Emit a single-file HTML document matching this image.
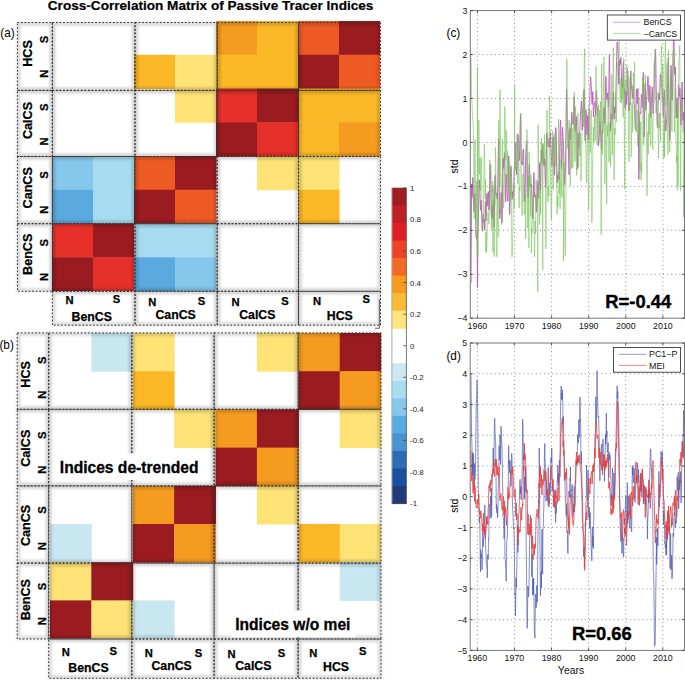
<!DOCTYPE html>
<html><head><meta charset="utf-8"><style>
html,body{margin:0;padding:0;background:#fff;}
body{width:685px;height:680px;position:relative;overflow:hidden;font-family:"Liberation Sans",sans-serif;}
</style></head><body>
<svg width="685" height="680" viewBox="0 0 685 680" style="position:absolute;left:0;top:0">
<defs><filter id="blur" x="-20%" y="-20%" width="140%" height="140%"><feGaussianBlur stdDeviation="1.3"/></filter></defs>
<text x="210.6" y="9.6" font-family="Liberation Sans, sans-serif" font-weight="bold" font-size="13.6" text-anchor="middle" stroke="#000" stroke-width="0.2">Cross-Correlation Matrix of Passive Tracer Indices</text>
<text transform="translate(0.3 37.2) scale(1 1.15)" font-family="Liberation Sans, sans-serif" font-size="11.8">(a)</text>
<text transform="translate(-0.6 349.3) scale(1 1.15)" font-family="Liberation Sans, sans-serif" font-size="11.8">(b)</text>
<rect x="216.00" y="21.00" width="41.50" height="34.25" fill="#f49b20"/>
<rect x="257.00" y="21.00" width="41.50" height="34.25" fill="#fbb826"/>
<rect x="298.00" y="21.00" width="41.50" height="34.25" fill="#ee5a24"/>
<rect x="339.00" y="21.00" width="41.00" height="34.25" fill="#9b1c20"/>
<rect x="134.00" y="54.75" width="41.50" height="34.25" fill="#fbb826"/>
<rect x="175.00" y="54.75" width="41.50" height="34.25" fill="#fde276"/>
<rect x="216.00" y="54.75" width="41.50" height="34.25" fill="#fbb826"/>
<rect x="257.00" y="54.75" width="41.50" height="34.25" fill="#fbb826"/>
<rect x="298.00" y="54.75" width="41.50" height="34.25" fill="#9b1c20"/>
<rect x="339.00" y="54.75" width="41.00" height="34.25" fill="#ee5a24"/>
<rect x="175.00" y="88.50" width="41.50" height="34.25" fill="#fde276"/>
<rect x="216.00" y="88.50" width="41.50" height="34.25" fill="#e6312a"/>
<rect x="257.00" y="88.50" width="41.50" height="34.25" fill="#9b1c20"/>
<rect x="298.00" y="88.50" width="41.50" height="34.25" fill="#fbb826"/>
<rect x="339.00" y="88.50" width="41.00" height="34.25" fill="#fbb826"/>
<rect x="216.00" y="122.25" width="41.50" height="34.25" fill="#9b1c20"/>
<rect x="257.00" y="122.25" width="41.50" height="34.25" fill="#e6312a"/>
<rect x="298.00" y="122.25" width="41.50" height="34.25" fill="#fbb826"/>
<rect x="339.00" y="122.25" width="41.00" height="34.25" fill="#f49b20"/>
<rect x="52.00" y="156.00" width="41.50" height="34.25" fill="#86c8ec"/>
<rect x="93.00" y="156.00" width="41.50" height="34.25" fill="#a7dbef"/>
<rect x="134.00" y="156.00" width="41.50" height="34.25" fill="#ee5a24"/>
<rect x="175.00" y="156.00" width="41.50" height="34.25" fill="#9b1c20"/>
<rect x="257.00" y="156.00" width="41.50" height="34.25" fill="#fde276"/>
<rect x="298.00" y="156.00" width="41.50" height="34.25" fill="#fde276"/>
<rect x="52.00" y="189.75" width="41.50" height="34.25" fill="#5aaae0"/>
<rect x="93.00" y="189.75" width="41.50" height="34.25" fill="#a7dbef"/>
<rect x="134.00" y="189.75" width="41.50" height="34.25" fill="#9b1c20"/>
<rect x="175.00" y="189.75" width="41.50" height="34.25" fill="#ee5a24"/>
<rect x="298.00" y="189.75" width="41.50" height="34.25" fill="#fbb826"/>
<rect x="52.00" y="223.50" width="41.50" height="34.25" fill="#e6312a"/>
<rect x="93.00" y="223.50" width="41.50" height="34.25" fill="#9b1c20"/>
<rect x="134.00" y="223.50" width="41.50" height="34.25" fill="#a7dbef"/>
<rect x="175.00" y="223.50" width="41.50" height="34.25" fill="#a7dbef"/>
<rect x="52.00" y="257.25" width="41.50" height="33.75" fill="#9b1c20"/>
<rect x="93.00" y="257.25" width="41.50" height="33.75" fill="#e6312a"/>
<rect x="134.00" y="257.25" width="41.50" height="33.75" fill="#5aaae0"/>
<rect x="175.00" y="257.25" width="41.50" height="33.75" fill="#86c8ec"/>
<clipPath id="cba0"><rect x="17.40" y="22.50" width="35.00" height="67.90"/></clipPath>
<g clip-path="url(#cba0)"><rect x="17.40" y="22.50" width="35.00" height="67.90" fill="none" stroke="#000" stroke-opacity="0.1" stroke-width="7" filter="url(#blur)"/></g>
<clipPath id="cba1"><rect x="52.40" y="22.50" width="82.60" height="67.90"/></clipPath>
<g clip-path="url(#cba1)"><rect x="52.40" y="22.50" width="82.60" height="67.90" fill="none" stroke="#000" stroke-opacity="0.1" stroke-width="7" filter="url(#blur)"/></g>
<clipPath id="cba2"><rect x="135.00" y="22.50" width="82.20" height="67.90"/></clipPath>
<g clip-path="url(#cba2)"><rect x="135.00" y="22.50" width="82.20" height="67.90" fill="none" stroke="#000" stroke-opacity="0.1" stroke-width="7" filter="url(#blur)"/></g>
<clipPath id="cba3"><rect x="217.20" y="22.50" width="81.30" height="67.90"/></clipPath>
<g clip-path="url(#cba3)"><rect x="217.20" y="22.50" width="81.30" height="67.90" fill="none" stroke="#000" stroke-opacity="0.1" stroke-width="7" filter="url(#blur)"/></g>
<clipPath id="cba4"><rect x="298.50" y="22.50" width="82.00" height="67.90"/></clipPath>
<g clip-path="url(#cba4)"><rect x="298.50" y="22.50" width="82.00" height="67.90" fill="none" stroke="#000" stroke-opacity="0.1" stroke-width="7" filter="url(#blur)"/></g>
<clipPath id="cba5"><rect x="17.40" y="90.40" width="35.00" height="66.10"/></clipPath>
<g clip-path="url(#cba5)"><rect x="17.40" y="90.40" width="35.00" height="66.10" fill="none" stroke="#000" stroke-opacity="0.1" stroke-width="7" filter="url(#blur)"/></g>
<clipPath id="cba6"><rect x="52.40" y="90.40" width="82.60" height="66.10"/></clipPath>
<g clip-path="url(#cba6)"><rect x="52.40" y="90.40" width="82.60" height="66.10" fill="none" stroke="#000" stroke-opacity="0.1" stroke-width="7" filter="url(#blur)"/></g>
<clipPath id="cba7"><rect x="135.00" y="90.40" width="82.20" height="66.10"/></clipPath>
<g clip-path="url(#cba7)"><rect x="135.00" y="90.40" width="82.20" height="66.10" fill="none" stroke="#000" stroke-opacity="0.1" stroke-width="7" filter="url(#blur)"/></g>
<clipPath id="cba8"><rect x="217.20" y="90.40" width="81.30" height="66.10"/></clipPath>
<g clip-path="url(#cba8)"><rect x="217.20" y="90.40" width="81.30" height="66.10" fill="none" stroke="#000" stroke-opacity="0.1" stroke-width="7" filter="url(#blur)"/></g>
<clipPath id="cba9"><rect x="298.50" y="90.40" width="82.00" height="66.10"/></clipPath>
<g clip-path="url(#cba9)"><rect x="298.50" y="90.40" width="82.00" height="66.10" fill="none" stroke="#000" stroke-opacity="0.1" stroke-width="7" filter="url(#blur)"/></g>
<clipPath id="cba10"><rect x="17.40" y="156.50" width="35.00" height="67.20"/></clipPath>
<g clip-path="url(#cba10)"><rect x="17.40" y="156.50" width="35.00" height="67.20" fill="none" stroke="#000" stroke-opacity="0.1" stroke-width="7" filter="url(#blur)"/></g>
<clipPath id="cba11"><rect x="52.40" y="156.50" width="82.60" height="67.20"/></clipPath>
<g clip-path="url(#cba11)"><rect x="52.40" y="156.50" width="82.60" height="67.20" fill="none" stroke="#000" stroke-opacity="0.1" stroke-width="7" filter="url(#blur)"/></g>
<clipPath id="cba12"><rect x="135.00" y="156.50" width="82.20" height="67.20"/></clipPath>
<g clip-path="url(#cba12)"><rect x="135.00" y="156.50" width="82.20" height="67.20" fill="none" stroke="#000" stroke-opacity="0.1" stroke-width="7" filter="url(#blur)"/></g>
<clipPath id="cba13"><rect x="217.20" y="156.50" width="81.30" height="67.20"/></clipPath>
<g clip-path="url(#cba13)"><rect x="217.20" y="156.50" width="81.30" height="67.20" fill="none" stroke="#000" stroke-opacity="0.1" stroke-width="7" filter="url(#blur)"/></g>
<clipPath id="cba14"><rect x="298.50" y="156.50" width="82.00" height="67.20"/></clipPath>
<g clip-path="url(#cba14)"><rect x="298.50" y="156.50" width="82.00" height="67.20" fill="none" stroke="#000" stroke-opacity="0.1" stroke-width="7" filter="url(#blur)"/></g>
<clipPath id="cba15"><rect x="17.40" y="223.70" width="35.00" height="67.60"/></clipPath>
<g clip-path="url(#cba15)"><rect x="17.40" y="223.70" width="35.00" height="67.60" fill="none" stroke="#000" stroke-opacity="0.1" stroke-width="7" filter="url(#blur)"/></g>
<clipPath id="cba16"><rect x="52.40" y="223.70" width="82.60" height="67.60"/></clipPath>
<g clip-path="url(#cba16)"><rect x="52.40" y="223.70" width="82.60" height="67.60" fill="none" stroke="#000" stroke-opacity="0.1" stroke-width="7" filter="url(#blur)"/></g>
<clipPath id="cba17"><rect x="135.00" y="223.70" width="82.20" height="67.60"/></clipPath>
<g clip-path="url(#cba17)"><rect x="135.00" y="223.70" width="82.20" height="67.60" fill="none" stroke="#000" stroke-opacity="0.1" stroke-width="7" filter="url(#blur)"/></g>
<clipPath id="cba18"><rect x="217.20" y="223.70" width="81.30" height="67.60"/></clipPath>
<g clip-path="url(#cba18)"><rect x="217.20" y="223.70" width="81.30" height="67.60" fill="none" stroke="#000" stroke-opacity="0.1" stroke-width="7" filter="url(#blur)"/></g>
<clipPath id="cba19"><rect x="298.50" y="223.70" width="82.00" height="67.60"/></clipPath>
<g clip-path="url(#cba19)"><rect x="298.50" y="223.70" width="82.00" height="67.60" fill="none" stroke="#000" stroke-opacity="0.1" stroke-width="7" filter="url(#blur)"/></g>
<clipPath id="cba20"><rect x="52.40" y="291.30" width="82.60" height="33.90"/></clipPath>
<g clip-path="url(#cba20)"><rect x="52.40" y="291.30" width="82.60" height="33.90" fill="none" stroke="#000" stroke-opacity="0.1" stroke-width="7" filter="url(#blur)"/></g>
<clipPath id="cba21"><rect x="135.00" y="291.30" width="82.20" height="33.90"/></clipPath>
<g clip-path="url(#cba21)"><rect x="135.00" y="291.30" width="82.20" height="33.90" fill="none" stroke="#000" stroke-opacity="0.1" stroke-width="7" filter="url(#blur)"/></g>
<clipPath id="cba22"><rect x="217.20" y="291.30" width="81.30" height="33.90"/></clipPath>
<g clip-path="url(#cba22)"><rect x="217.20" y="291.30" width="81.30" height="33.90" fill="none" stroke="#000" stroke-opacity="0.1" stroke-width="7" filter="url(#blur)"/></g>
<clipPath id="cba23"><rect x="298.50" y="291.30" width="82.00" height="33.90"/></clipPath>
<g clip-path="url(#cba23)"><rect x="298.50" y="291.30" width="82.00" height="33.90" fill="none" stroke="#000" stroke-opacity="0.1" stroke-width="7" filter="url(#blur)"/></g>
<g filter="url(#blur)" stroke="#000" stroke-opacity="0.035" stroke-width="5" fill="none">
<rect x="17.40" y="22.50" width="35.00" height="67.90"/>
<rect x="52.40" y="22.50" width="82.60" height="67.90"/>
<rect x="135.00" y="22.50" width="82.20" height="67.90"/>
<rect x="217.20" y="22.50" width="81.30" height="67.90"/>
<rect x="298.50" y="22.50" width="82.00" height="67.90"/>
<rect x="17.40" y="90.40" width="35.00" height="66.10"/>
<rect x="52.40" y="90.40" width="82.60" height="66.10"/>
<rect x="135.00" y="90.40" width="82.20" height="66.10"/>
<rect x="217.20" y="90.40" width="81.30" height="66.10"/>
<rect x="298.50" y="90.40" width="82.00" height="66.10"/>
<rect x="17.40" y="156.50" width="35.00" height="67.20"/>
<rect x="52.40" y="156.50" width="82.60" height="67.20"/>
<rect x="135.00" y="156.50" width="82.20" height="67.20"/>
<rect x="217.20" y="156.50" width="81.30" height="67.20"/>
<rect x="298.50" y="156.50" width="82.00" height="67.20"/>
<rect x="17.40" y="223.70" width="35.00" height="67.60"/>
<rect x="52.40" y="223.70" width="82.60" height="67.60"/>
<rect x="135.00" y="223.70" width="82.20" height="67.60"/>
<rect x="217.20" y="223.70" width="81.30" height="67.60"/>
<rect x="298.50" y="223.70" width="82.00" height="67.60"/>
<rect x="52.40" y="291.30" width="82.60" height="33.90"/>
<rect x="135.00" y="291.30" width="82.20" height="33.90"/>
<rect x="217.20" y="291.30" width="81.30" height="33.90"/>
<rect x="298.50" y="291.30" width="82.00" height="33.90"/>
</g>
<g stroke="#333" stroke-width="1.0" fill="none" stroke-dasharray="1.8 1.76">
<rect x="17.40" y="22.50" width="35.00" height="67.90"/>
<rect x="52.40" y="22.50" width="82.60" height="67.90"/>
<rect x="135.00" y="22.50" width="82.20" height="67.90"/>
<rect x="217.20" y="22.50" width="81.30" height="67.90"/>
<rect x="298.50" y="22.50" width="82.00" height="67.90"/>
<rect x="17.40" y="90.40" width="35.00" height="66.10"/>
<rect x="52.40" y="90.40" width="82.60" height="66.10"/>
<rect x="135.00" y="90.40" width="82.20" height="66.10"/>
<rect x="217.20" y="90.40" width="81.30" height="66.10"/>
<rect x="298.50" y="90.40" width="82.00" height="66.10"/>
<rect x="17.40" y="156.50" width="35.00" height="67.20"/>
<rect x="52.40" y="156.50" width="82.60" height="67.20"/>
<rect x="135.00" y="156.50" width="82.20" height="67.20"/>
<rect x="217.20" y="156.50" width="81.30" height="67.20"/>
<rect x="298.50" y="156.50" width="82.00" height="67.20"/>
<rect x="17.40" y="223.70" width="35.00" height="67.60"/>
<rect x="52.40" y="223.70" width="82.60" height="67.60"/>
<rect x="135.00" y="223.70" width="82.20" height="67.60"/>
<rect x="217.20" y="223.70" width="81.30" height="67.60"/>
<rect x="298.50" y="223.70" width="82.00" height="67.60"/>
<rect x="52.40" y="291.30" width="82.60" height="33.90"/>
<rect x="135.00" y="291.30" width="82.20" height="33.90"/>
<rect x="217.20" y="291.30" width="81.30" height="33.90"/>
<rect x="298.50" y="291.30" width="82.00" height="33.90"/>
</g>
<g font-family="Liberation Sans, sans-serif" font-weight="bold" fill="#000" stroke="#000" stroke-width="0.25">
<text x="27.20" y="53.50" font-size="12.6" text-anchor="middle" transform="rotate(-90 27.20 53.50)" dy="4.5">HCS</text>
<text x="44.50" y="39.50" font-size="11.2" text-anchor="middle" transform="rotate(-90 44.50 39.50)" dy="3.9">S</text>
<text x="44.50" y="73.70" font-size="11.2" text-anchor="middle" transform="rotate(-90 44.50 73.70)" dy="3.9">N</text>
<text x="27.20" y="120.50" font-size="12.6" text-anchor="middle" transform="rotate(-90 27.20 120.50)" dy="4.5">CalCS</text>
<text x="44.50" y="107.30" font-size="11.2" text-anchor="middle" transform="rotate(-90 44.50 107.30)" dy="3.9">S</text>
<text x="44.50" y="141.40" font-size="11.2" text-anchor="middle" transform="rotate(-90 44.50 141.40)" dy="3.9">N</text>
<text x="27.20" y="187.80" font-size="12.6" text-anchor="middle" transform="rotate(-90 27.20 187.80)" dy="4.5">CanCS</text>
<text x="44.50" y="174.90" font-size="11.2" text-anchor="middle" transform="rotate(-90 44.50 174.90)" dy="3.9">S</text>
<text x="44.50" y="209.60" font-size="11.2" text-anchor="middle" transform="rotate(-90 44.50 209.60)" dy="3.9">N</text>
<text x="27.20" y="254.30" font-size="12.6" text-anchor="middle" transform="rotate(-90 27.20 254.30)" dy="4.5">BenCS</text>
<text x="44.50" y="242.70" font-size="11.2" text-anchor="middle" transform="rotate(-90 44.50 242.70)" dy="3.9">S</text>
<text x="44.50" y="276.90" font-size="11.2" text-anchor="middle" transform="rotate(-90 44.50 276.90)" dy="3.9">N</text>
<text x="69.60" y="303.90" font-size="11.2" text-anchor="middle">N</text>
<text x="116.60" y="303.30" font-size="11.2" text-anchor="middle">S</text>
<text x="91.75" y="321.20" font-size="12.3" text-anchor="middle">BenCS</text>
<text x="152.30" y="305.70" font-size="11.2" text-anchor="middle">N</text>
<text x="201.60" y="305.30" font-size="11.2" text-anchor="middle">S</text>
<text x="175.60" y="319.30" font-size="12.3" text-anchor="middle">CanCS</text>
<text x="235.50" y="305.70" font-size="11.2" text-anchor="middle">N</text>
<text x="285.10" y="305.10" font-size="11.2" text-anchor="middle">S</text>
<text x="257.30" y="319.30" font-size="12.3" text-anchor="middle">CalCS</text>
<text x="317.00" y="304.70" font-size="11.2" text-anchor="middle">N</text>
<text x="366.20" y="303.40" font-size="11.2" text-anchor="middle">S</text>
<text x="339.80" y="320.40" font-size="12.3" text-anchor="middle">HCS</text>
</g>
<rect x="91.30" y="333.00" width="41.90" height="38.70" fill="#c9e7f1"/>
<rect x="132.70" y="333.00" width="41.90" height="38.70" fill="#fde276"/>
<rect x="256.90" y="333.00" width="41.90" height="38.70" fill="#fde276"/>
<rect x="298.30" y="333.00" width="41.90" height="38.70" fill="#f49b20"/>
<rect x="339.70" y="333.00" width="41.40" height="38.70" fill="#9b1c20"/>
<rect x="132.70" y="371.20" width="41.90" height="38.70" fill="#fbb826"/>
<rect x="298.30" y="371.20" width="41.90" height="38.70" fill="#9b1c20"/>
<rect x="339.70" y="371.20" width="41.40" height="38.70" fill="#f49b20"/>
<rect x="174.10" y="409.40" width="41.90" height="38.70" fill="#fde276"/>
<rect x="215.50" y="409.40" width="41.90" height="38.70" fill="#f49b20"/>
<rect x="256.90" y="409.40" width="41.90" height="38.70" fill="#9b1c20"/>
<rect x="339.70" y="409.40" width="41.40" height="38.70" fill="#fde276"/>
<rect x="215.50" y="447.60" width="41.90" height="38.70" fill="#9b1c20"/>
<rect x="256.90" y="447.60" width="41.90" height="38.70" fill="#f49b20"/>
<rect x="132.70" y="485.80" width="41.90" height="38.70" fill="#f49b20"/>
<rect x="174.10" y="485.80" width="41.90" height="38.70" fill="#9b1c20"/>
<rect x="256.90" y="485.80" width="41.90" height="38.70" fill="#fde276"/>
<rect x="49.90" y="524.00" width="41.90" height="38.70" fill="#c9e7f1"/>
<rect x="132.70" y="524.00" width="41.90" height="38.70" fill="#9b1c20"/>
<rect x="174.10" y="524.00" width="41.90" height="38.70" fill="#f49b20"/>
<rect x="298.30" y="524.00" width="41.90" height="38.70" fill="#fbb826"/>
<rect x="339.70" y="524.00" width="41.40" height="38.70" fill="#fde276"/>
<rect x="49.90" y="562.20" width="41.90" height="38.70" fill="#fde276"/>
<rect x="91.30" y="562.20" width="41.90" height="38.70" fill="#9b1c20"/>
<rect x="339.70" y="562.20" width="41.40" height="38.70" fill="#c9e7f1"/>
<rect x="49.90" y="600.40" width="41.90" height="38.20" fill="#9b1c20"/>
<rect x="91.30" y="600.40" width="41.90" height="38.20" fill="#fde276"/>
<rect x="132.70" y="600.40" width="41.90" height="38.20" fill="#c9e7f1"/>
<clipPath id="cbb0"><rect x="17.20" y="332.90" width="31.50" height="76.40"/></clipPath>
<g clip-path="url(#cbb0)"><rect x="17.20" y="332.90" width="31.50" height="76.40" fill="none" stroke="#000" stroke-opacity="0.1" stroke-width="7" filter="url(#blur)"/></g>
<clipPath id="cbb1"><rect x="48.70" y="332.90" width="83.10" height="76.40"/></clipPath>
<g clip-path="url(#cbb1)"><rect x="48.70" y="332.90" width="83.10" height="76.40" fill="none" stroke="#000" stroke-opacity="0.1" stroke-width="7" filter="url(#blur)"/></g>
<clipPath id="cbb2"><rect x="131.80" y="332.90" width="82.30" height="76.40"/></clipPath>
<g clip-path="url(#cbb2)"><rect x="131.80" y="332.90" width="82.30" height="76.40" fill="none" stroke="#000" stroke-opacity="0.1" stroke-width="7" filter="url(#blur)"/></g>
<clipPath id="cbb3"><rect x="214.10" y="332.90" width="84.00" height="76.40"/></clipPath>
<g clip-path="url(#cbb3)"><rect x="214.10" y="332.90" width="84.00" height="76.40" fill="none" stroke="#000" stroke-opacity="0.1" stroke-width="7" filter="url(#blur)"/></g>
<clipPath id="cbb4"><rect x="298.10" y="332.90" width="82.90" height="76.40"/></clipPath>
<g clip-path="url(#cbb4)"><rect x="298.10" y="332.90" width="82.90" height="76.40" fill="none" stroke="#000" stroke-opacity="0.1" stroke-width="7" filter="url(#blur)"/></g>
<clipPath id="cbb5"><rect x="17.20" y="409.30" width="31.50" height="76.60"/></clipPath>
<g clip-path="url(#cbb5)"><rect x="17.20" y="409.30" width="31.50" height="76.60" fill="none" stroke="#000" stroke-opacity="0.1" stroke-width="7" filter="url(#blur)"/></g>
<clipPath id="cbb6"><rect x="48.70" y="409.30" width="83.10" height="76.60"/></clipPath>
<g clip-path="url(#cbb6)"><rect x="48.70" y="409.30" width="83.10" height="76.60" fill="none" stroke="#000" stroke-opacity="0.1" stroke-width="7" filter="url(#blur)"/></g>
<clipPath id="cbb7"><rect x="131.80" y="409.30" width="82.30" height="76.60"/></clipPath>
<g clip-path="url(#cbb7)"><rect x="131.80" y="409.30" width="82.30" height="76.60" fill="none" stroke="#000" stroke-opacity="0.1" stroke-width="7" filter="url(#blur)"/></g>
<clipPath id="cbb8"><rect x="214.10" y="409.30" width="84.00" height="76.60"/></clipPath>
<g clip-path="url(#cbb8)"><rect x="214.10" y="409.30" width="84.00" height="76.60" fill="none" stroke="#000" stroke-opacity="0.1" stroke-width="7" filter="url(#blur)"/></g>
<clipPath id="cbb9"><rect x="298.10" y="409.30" width="82.90" height="76.60"/></clipPath>
<g clip-path="url(#cbb9)"><rect x="298.10" y="409.30" width="82.90" height="76.60" fill="none" stroke="#000" stroke-opacity="0.1" stroke-width="7" filter="url(#blur)"/></g>
<clipPath id="cbb10"><rect x="17.20" y="485.90" width="31.50" height="77.20"/></clipPath>
<g clip-path="url(#cbb10)"><rect x="17.20" y="485.90" width="31.50" height="77.20" fill="none" stroke="#000" stroke-opacity="0.1" stroke-width="7" filter="url(#blur)"/></g>
<clipPath id="cbb11"><rect x="48.70" y="485.90" width="83.10" height="77.20"/></clipPath>
<g clip-path="url(#cbb11)"><rect x="48.70" y="485.90" width="83.10" height="77.20" fill="none" stroke="#000" stroke-opacity="0.1" stroke-width="7" filter="url(#blur)"/></g>
<clipPath id="cbb12"><rect x="131.80" y="485.90" width="82.30" height="77.20"/></clipPath>
<g clip-path="url(#cbb12)"><rect x="131.80" y="485.90" width="82.30" height="77.20" fill="none" stroke="#000" stroke-opacity="0.1" stroke-width="7" filter="url(#blur)"/></g>
<clipPath id="cbb13"><rect x="214.10" y="485.90" width="84.00" height="77.20"/></clipPath>
<g clip-path="url(#cbb13)"><rect x="214.10" y="485.90" width="84.00" height="77.20" fill="none" stroke="#000" stroke-opacity="0.1" stroke-width="7" filter="url(#blur)"/></g>
<clipPath id="cbb14"><rect x="298.10" y="485.90" width="82.90" height="77.20"/></clipPath>
<g clip-path="url(#cbb14)"><rect x="298.10" y="485.90" width="82.90" height="77.20" fill="none" stroke="#000" stroke-opacity="0.1" stroke-width="7" filter="url(#blur)"/></g>
<clipPath id="cbb15"><rect x="17.20" y="563.10" width="31.50" height="75.90"/></clipPath>
<g clip-path="url(#cbb15)"><rect x="17.20" y="563.10" width="31.50" height="75.90" fill="none" stroke="#000" stroke-opacity="0.1" stroke-width="7" filter="url(#blur)"/></g>
<clipPath id="cbb16"><rect x="48.70" y="563.10" width="83.10" height="75.90"/></clipPath>
<g clip-path="url(#cbb16)"><rect x="48.70" y="563.10" width="83.10" height="75.90" fill="none" stroke="#000" stroke-opacity="0.1" stroke-width="7" filter="url(#blur)"/></g>
<clipPath id="cbb17"><rect x="131.80" y="563.10" width="82.30" height="75.90"/></clipPath>
<g clip-path="url(#cbb17)"><rect x="131.80" y="563.10" width="82.30" height="75.90" fill="none" stroke="#000" stroke-opacity="0.1" stroke-width="7" filter="url(#blur)"/></g>
<clipPath id="cbb18"><rect x="214.10" y="563.10" width="84.00" height="75.90"/></clipPath>
<g clip-path="url(#cbb18)"><rect x="214.10" y="563.10" width="84.00" height="75.90" fill="none" stroke="#000" stroke-opacity="0.1" stroke-width="7" filter="url(#blur)"/></g>
<clipPath id="cbb19"><rect x="298.10" y="563.10" width="82.90" height="75.90"/></clipPath>
<g clip-path="url(#cbb19)"><rect x="298.10" y="563.10" width="82.90" height="75.90" fill="none" stroke="#000" stroke-opacity="0.1" stroke-width="7" filter="url(#blur)"/></g>
<clipPath id="cbb20"><rect x="48.70" y="639.00" width="83.10" height="39.30"/></clipPath>
<g clip-path="url(#cbb20)"><rect x="48.70" y="639.00" width="83.10" height="39.30" fill="none" stroke="#000" stroke-opacity="0.1" stroke-width="7" filter="url(#blur)"/></g>
<clipPath id="cbb21"><rect x="131.80" y="639.00" width="82.30" height="39.30"/></clipPath>
<g clip-path="url(#cbb21)"><rect x="131.80" y="639.00" width="82.30" height="39.30" fill="none" stroke="#000" stroke-opacity="0.1" stroke-width="7" filter="url(#blur)"/></g>
<clipPath id="cbb22"><rect x="214.10" y="639.00" width="84.00" height="39.30"/></clipPath>
<g clip-path="url(#cbb22)"><rect x="214.10" y="639.00" width="84.00" height="39.30" fill="none" stroke="#000" stroke-opacity="0.1" stroke-width="7" filter="url(#blur)"/></g>
<clipPath id="cbb23"><rect x="298.10" y="639.00" width="82.90" height="39.30"/></clipPath>
<g clip-path="url(#cbb23)"><rect x="298.10" y="639.00" width="82.90" height="39.30" fill="none" stroke="#000" stroke-opacity="0.1" stroke-width="7" filter="url(#blur)"/></g>
<g filter="url(#blur)" stroke="#000" stroke-opacity="0.035" stroke-width="5" fill="none">
<rect x="17.20" y="332.90" width="31.50" height="76.40"/>
<rect x="48.70" y="332.90" width="83.10" height="76.40"/>
<rect x="131.80" y="332.90" width="82.30" height="76.40"/>
<rect x="214.10" y="332.90" width="84.00" height="76.40"/>
<rect x="298.10" y="332.90" width="82.90" height="76.40"/>
<rect x="17.20" y="409.30" width="31.50" height="76.60"/>
<rect x="48.70" y="409.30" width="83.10" height="76.60"/>
<rect x="131.80" y="409.30" width="82.30" height="76.60"/>
<rect x="214.10" y="409.30" width="84.00" height="76.60"/>
<rect x="298.10" y="409.30" width="82.90" height="76.60"/>
<rect x="17.20" y="485.90" width="31.50" height="77.20"/>
<rect x="48.70" y="485.90" width="83.10" height="77.20"/>
<rect x="131.80" y="485.90" width="82.30" height="77.20"/>
<rect x="214.10" y="485.90" width="84.00" height="77.20"/>
<rect x="298.10" y="485.90" width="82.90" height="77.20"/>
<rect x="17.20" y="563.10" width="31.50" height="75.90"/>
<rect x="48.70" y="563.10" width="83.10" height="75.90"/>
<rect x="131.80" y="563.10" width="82.30" height="75.90"/>
<rect x="214.10" y="563.10" width="84.00" height="75.90"/>
<rect x="298.10" y="563.10" width="82.90" height="75.90"/>
<rect x="48.70" y="639.00" width="83.10" height="39.30"/>
<rect x="131.80" y="639.00" width="82.30" height="39.30"/>
<rect x="214.10" y="639.00" width="84.00" height="39.30"/>
<rect x="298.10" y="639.00" width="82.90" height="39.30"/>
</g>
<g stroke="#333" stroke-width="1.0" fill="none" stroke-dasharray="1.8 1.76">
<rect x="17.20" y="332.90" width="31.50" height="76.40"/>
<rect x="48.70" y="332.90" width="83.10" height="76.40"/>
<rect x="131.80" y="332.90" width="82.30" height="76.40"/>
<rect x="214.10" y="332.90" width="84.00" height="76.40"/>
<rect x="298.10" y="332.90" width="82.90" height="76.40"/>
<rect x="17.20" y="409.30" width="31.50" height="76.60"/>
<rect x="48.70" y="409.30" width="83.10" height="76.60"/>
<rect x="131.80" y="409.30" width="82.30" height="76.60"/>
<rect x="214.10" y="409.30" width="84.00" height="76.60"/>
<rect x="298.10" y="409.30" width="82.90" height="76.60"/>
<rect x="17.20" y="485.90" width="31.50" height="77.20"/>
<rect x="48.70" y="485.90" width="83.10" height="77.20"/>
<rect x="131.80" y="485.90" width="82.30" height="77.20"/>
<rect x="214.10" y="485.90" width="84.00" height="77.20"/>
<rect x="298.10" y="485.90" width="82.90" height="77.20"/>
<rect x="17.20" y="563.10" width="31.50" height="75.90"/>
<rect x="48.70" y="563.10" width="83.10" height="75.90"/>
<rect x="131.80" y="563.10" width="82.30" height="75.90"/>
<rect x="214.10" y="563.10" width="84.00" height="75.90"/>
<rect x="298.10" y="563.10" width="82.90" height="75.90"/>
<rect x="48.70" y="639.00" width="83.10" height="39.30"/>
<rect x="131.80" y="639.00" width="82.30" height="39.30"/>
<rect x="214.10" y="639.00" width="84.00" height="39.30"/>
<rect x="298.10" y="639.00" width="82.90" height="39.30"/>
</g>
<g font-family="Liberation Sans, sans-serif" font-weight="bold" fill="#000" stroke="#000" stroke-width="0.25">
<text x="25.10" y="374.40" font-size="12.6" text-anchor="middle" transform="rotate(-90 25.10 374.40)" dy="4.5">HCS</text>
<text x="42.20" y="360.30" font-size="11.2" text-anchor="middle" transform="rotate(-90 42.20 360.30)" dy="3.9">S</text>
<text x="42.20" y="394.70" font-size="11.2" text-anchor="middle" transform="rotate(-90 42.20 394.70)" dy="3.9">N</text>
<text x="25.10" y="448.25" font-size="12.6" text-anchor="middle" transform="rotate(-90 25.10 448.25)" dy="4.5">CalCS</text>
<text x="42.20" y="435.30" font-size="11.2" text-anchor="middle" transform="rotate(-90 42.20 435.30)" dy="3.9">S</text>
<text x="42.20" y="469.70" font-size="11.2" text-anchor="middle" transform="rotate(-90 42.20 469.70)" dy="3.9">N</text>
<text x="25.10" y="525.40" font-size="12.6" text-anchor="middle" transform="rotate(-90 25.10 525.40)" dy="4.5">CanCS</text>
<text x="42.20" y="510.00" font-size="11.2" text-anchor="middle" transform="rotate(-90 42.20 510.00)" dy="3.9">S</text>
<text x="42.20" y="546.10" font-size="11.2" text-anchor="middle" transform="rotate(-90 42.20 546.10)" dy="3.9">N</text>
<text x="25.10" y="599.60" font-size="12.6" text-anchor="middle" transform="rotate(-90 25.10 599.60)" dy="4.5">BenCS</text>
<text x="42.20" y="586.60" font-size="11.2" text-anchor="middle" transform="rotate(-90 42.20 586.60)" dy="3.9">S</text>
<text x="42.20" y="621.30" font-size="11.2" text-anchor="middle" transform="rotate(-90 42.20 621.30)" dy="3.9">N</text>
<text x="65.80" y="655.90" font-size="11.2" text-anchor="middle">N</text>
<text x="113.20" y="655.30" font-size="11.2" text-anchor="middle">S</text>
<text x="88.50" y="671.60" font-size="12.3" text-anchor="middle">BenCS</text>
<text x="148.90" y="657.40" font-size="11.2" text-anchor="middle">N</text>
<text x="198.50" y="657.00" font-size="11.2" text-anchor="middle">S</text>
<text x="171.60" y="670.20" font-size="12.3" text-anchor="middle">CanCS</text>
<text x="231.50" y="657.60" font-size="11.2" text-anchor="middle">N</text>
<text x="281.60" y="657.00" font-size="11.2" text-anchor="middle">S</text>
<text x="253.30" y="670.20" font-size="12.3" text-anchor="middle">CalCS</text>
<text x="313.30" y="656.80" font-size="11.2" text-anchor="middle">N</text>
<text x="362.70" y="655.10" font-size="11.2" text-anchor="middle">S</text>
<text x="336.10" y="671.10" font-size="12.3" text-anchor="middle">HCS</text>
</g>
<rect x="56" y="453.6" width="146" height="26.4" fill="#fff"/>
<text x="59.8" y="473" font-family="Liberation Sans, sans-serif" font-weight="bold" font-size="15.6" stroke="#000" stroke-width="0.3">Indices de-trended</text>
<rect x="231" y="610.8" width="124" height="26.4" fill="#fff"/>
<text x="235.2" y="630.1" font-family="Liberation Sans, sans-serif" font-weight="bold" font-size="15.6" stroke="#000" stroke-width="0.3">Indices w/o mei</text>
<path d="M379.4 299.4 V328.3 H375" fill="none" stroke="#444" stroke-width="0.8"/>
</svg>
<svg width="685" height="680" style="position:absolute;left:0;top:0">
<rect x="391.9" y="188.00" width="14.50" height="18.13" fill="#a01d22"/>
<rect x="391.9" y="205.53" width="14.50" height="18.13" fill="#bf1f26"/>
<rect x="391.9" y="223.06" width="14.50" height="18.13" fill="#e01f26"/>
<rect x="391.9" y="240.58" width="14.50" height="18.13" fill="#ec4225"/>
<rect x="391.9" y="258.11" width="14.50" height="18.13" fill="#f26a24"/>
<rect x="391.9" y="275.64" width="14.50" height="18.13" fill="#f69b1f"/>
<rect x="391.9" y="293.17" width="14.50" height="18.13" fill="#fbb938"/>
<rect x="391.9" y="310.69" width="14.50" height="18.13" fill="#fde47c"/>
<rect x="391.9" y="363.28" width="14.50" height="18.13" fill="#cbe8f2"/>
<rect x="391.9" y="380.81" width="14.50" height="18.13" fill="#a8dcf0"/>
<rect x="391.9" y="398.33" width="14.50" height="18.13" fill="#86c7ec"/>
<rect x="391.9" y="415.86" width="14.50" height="18.13" fill="#5aabe0"/>
<rect x="391.9" y="433.39" width="14.50" height="18.13" fill="#4a93d0"/>
<rect x="391.9" y="450.92" width="14.50" height="18.13" fill="#2e6db4"/>
<rect x="391.9" y="468.44" width="14.50" height="18.13" fill="#1b4fa0"/>
<rect x="391.9" y="485.97" width="14.50" height="18.13" fill="#233a7a"/>
<line x1="391.9" y1="188.0" x2="391.9" y2="503.5" stroke="#aaa" stroke-width="1"/>
<line x1="406.4" y1="188.0" x2="406.4" y2="503.5" stroke="#555" stroke-width="0.8"/>
<line x1="391.9" y1="188.0" x2="406.4" y2="188.0" stroke="#555" stroke-width="0.6"/>
<line x1="391.9" y1="503.5" x2="406.4" y2="503.5" stroke="#555" stroke-width="0.6"/>
<g stroke="#444" stroke-width="0.8">
<line x1="403.2" y1="188.00" x2="406.4" y2="188.00"/>
<line x1="403.2" y1="219.55" x2="406.4" y2="219.55"/>
<line x1="403.2" y1="251.10" x2="406.4" y2="251.10"/>
<line x1="403.2" y1="282.65" x2="406.4" y2="282.65"/>
<line x1="403.2" y1="314.20" x2="406.4" y2="314.20"/>
<line x1="403.2" y1="345.75" x2="406.4" y2="345.75"/>
<line x1="403.2" y1="377.30" x2="406.4" y2="377.30"/>
<line x1="403.2" y1="408.85" x2="406.4" y2="408.85"/>
<line x1="403.2" y1="440.40" x2="406.4" y2="440.40"/>
<line x1="403.2" y1="471.95" x2="406.4" y2="471.95"/>
<line x1="403.2" y1="503.50" x2="406.4" y2="503.50"/>
</g>
<g font-family="Liberation Sans, sans-serif" font-size="7.9" fill="#222">
<text x="410" y="190.90">1</text>
<text x="410" y="222.45">0.8</text>
<text x="410" y="254.00">0.6</text>
<text x="410" y="285.55">0.4</text>
<text x="410" y="317.10">0.2</text>
<text x="410" y="348.65">0</text>
<text x="410" y="380.20">-0.2</text>
<text x="410" y="411.75">-0.4</text>
<text x="410" y="443.30">-0.6</text>
<text x="410" y="474.85">-0.8</text>
<text x="410" y="506.40">-1</text>
</g>
</svg>
<svg width="685" height="680" style="position:absolute;left:0;top:0">
<defs><clipPath id="cp10"><rect x="470.3" y="10.6" width="214.2" height="307.59999999999997"/></clipPath></defs>
<g stroke="#6a6a6a" stroke-width="0.75" stroke-dasharray="1 3.1" fill="none">
<line x1="477.40" y1="10.6" x2="477.40" y2="318.2"/>
<line x1="514.50" y1="10.6" x2="514.50" y2="318.2"/>
<line x1="551.60" y1="10.6" x2="551.60" y2="318.2"/>
<line x1="588.70" y1="10.6" x2="588.70" y2="318.2"/>
<line x1="625.80" y1="10.6" x2="625.80" y2="318.2"/>
<line x1="662.90" y1="10.6" x2="662.90" y2="318.2"/>
<line x1="470.3" y1="274.26" x2="684.5" y2="274.26"/>
<line x1="470.3" y1="230.31" x2="684.5" y2="230.31"/>
<line x1="470.3" y1="186.37" x2="684.5" y2="186.37"/>
<line x1="470.3" y1="142.43" x2="684.5" y2="142.43"/>
<line x1="470.3" y1="98.49" x2="684.5" y2="98.49"/>
<line x1="470.3" y1="54.54" x2="684.5" y2="54.54"/>
</g>
<g clip-path="url(#cp10)" fill="none" stroke-linejoin="round">
<polyline points="471.02,283.05 471.33,230.31 471.64,183.96 471.95,197.55 472.26,196.39 472.56,182.40 472.87,177.50 473.18,189.28 473.49,200.11 473.80,205.83 474.11,211.64 474.42,207.90 474.73,196.50 475.04,193.32 475.35,203.22 475.66,222.72 475.97,237.08 476.27,237.32 476.58,239.22 476.89,237.83 477.20,230.31 477.51,287.44 477.82,234.71 478.13,227.14 478.44,217.32 478.75,198.33 479.06,182.95 479.37,179.99 479.68,184.39 479.98,192.34 480.29,205.08 480.60,210.30 480.91,203.02 481.22,200.26 481.53,209.55 481.84,221.30 482.15,230.79 482.46,231.22 482.77,218.51 483.08,213.91 483.39,221.37 483.69,222.73 484.00,219.10 484.31,222.60 484.62,229.77 484.93,220.34 485.24,201.62 485.55,203.45 485.86,220.03 486.17,220.78 486.48,207.40 486.79,195.77 487.10,193.35 487.40,201.19 487.71,205.99 488.02,199.77 488.33,191.56 488.64,197.33 488.95,210.30 489.26,205.77 489.57,182.79 489.88,166.55 490.19,164.26 490.50,171.26 490.81,188.75 491.11,209.09 491.42,217.55 491.73,210.97 492.04,206.60 492.35,214.84 492.66,218.32 492.97,209.08 493.28,200.51 493.59,207.28 493.90,224.88 494.21,226.97 494.52,203.94 494.82,179.66 495.13,175.25 495.44,185.24 495.75,193.87 496.06,195.11 496.37,193.22 496.68,194.52 496.99,199.13 497.30,198.70 497.61,191.16 497.92,177.85 498.23,157.24 498.53,138.29 498.84,141.81 499.15,172.72 499.46,207.28 499.77,218.83 500.08,214.48 500.39,213.19 500.70,208.88 501.01,193.65 501.32,192.11 501.63,211.06 501.94,222.83 502.24,214.09 502.55,191.54 502.86,167.72 503.17,158.15 503.48,164.42 503.79,168.59 504.10,161.90 504.41,152.74 504.72,154.39 505.03,171.31 505.34,193.42 505.65,201.87 505.95,190.64 506.26,174.59 506.57,174.61 506.88,187.24 507.19,194.73 507.50,197.42 507.81,201.17 508.12,192.99 508.43,168.63 508.74,155.96 509.05,173.53 509.36,200.99 509.66,214.63 509.97,205.83 510.28,182.89 510.59,167.57 510.90,166.49 511.21,170.05 511.52,176.38 511.83,188.86 512.14,199.41 512.45,197.39 512.76,191.79 513.07,192.82 513.37,194.89 513.68,190.33 513.99,178.10 514.30,167.98 514.61,165.99 514.92,161.14 515.23,149.12 515.54,142.93 515.85,154.19 516.16,171.58 516.47,174.74 516.78,168.32 517.08,157.36 517.39,142.92 517.70,133.93 518.01,134.17 518.32,137.69 518.63,143.65 518.94,154.66 519.25,160.56 519.56,156.37 519.87,143.35 520.18,124.43 520.49,114.33 520.79,123.26 521.10,145.97 521.41,162.32 521.72,163.58 522.03,162.61 522.34,164.81 522.65,161.65 522.96,152.86 523.27,149.03 523.58,154.72 523.89,165.52 524.20,181.93 524.50,197.00 524.81,201.60 525.12,192.74 525.43,172.96 525.74,156.11 526.05,148.51 526.36,142.23 526.67,140.60 526.98,151.95 527.29,170.87 527.60,188.83 527.91,197.44 528.21,196.59 528.52,191.78 528.83,179.62 529.14,166.53 529.45,164.37 529.76,174.68 530.07,184.66 530.38,186.88 530.69,187.13 531.00,185.99 531.31,184.16 531.62,186.24 531.92,193.06 532.23,202.37 532.54,212.90 532.85,218.81 533.16,211.11 533.47,191.46 533.78,172.56 534.09,174.95 534.40,191.60 534.71,197.30 535.02,195.87 535.33,194.87 535.63,195.34 535.94,204.53 536.25,212.41 536.56,205.82 536.87,195.58 537.18,192.94 537.49,190.00 537.80,181.17 538.11,181.92 538.42,194.19 538.73,198.69 539.04,189.70 539.34,173.38 539.65,162.71 539.96,172.83 540.27,190.54 540.58,189.17 540.89,166.97 541.20,149.97 541.51,154.11 541.82,161.95 542.13,159.38 542.44,149.54 542.75,144.54 543.05,151.37 543.36,158.18 543.67,161.72 543.98,166.41 544.29,165.42 544.60,158.95 544.91,163.31 545.22,177.87 545.53,187.26 545.84,179.85 546.15,159.27 546.46,141.24 546.76,132.92 547.07,132.82 547.38,139.20 547.69,144.80 548.00,145.45 548.31,146.65 548.62,146.39 548.93,140.06 549.24,137.80 549.55,145.32 549.86,147.50 550.17,136.81 550.47,132.26 550.78,144.33 551.09,155.50 551.40,156.80 551.71,160.57 552.02,165.94 552.33,157.70 552.64,146.27 552.95,141.01 553.26,136.90 553.57,142.31 553.88,157.16 554.18,171.05 554.49,175.15 554.80,160.81 555.11,141.65 555.42,132.35 555.73,127.60 556.04,128.86 556.35,140.39 556.66,163.66 556.97,183.11 557.28,181.75 557.59,175.57 557.89,178.46 558.20,177.55 558.51,172.16 558.82,176.20 559.13,179.89 559.44,166.92 559.75,147.44 560.06,132.86 560.37,120.31 560.68,120.25 560.99,141.65 561.30,165.77 561.60,168.62 561.91,150.39 562.22,132.06 562.53,127.37 562.84,132.80 563.15,140.22 563.46,146.22 563.77,154.52 564.08,167.42 564.39,180.53 564.70,184.72 565.01,179.96 565.31,172.42 565.62,157.67 565.93,133.42 566.24,106.03 566.55,89.86 566.86,99.77 567.17,118.48 567.48,125.58 567.79,128.93 568.10,133.44 568.41,143.12 568.72,164.69 569.02,174.74 569.33,156.80 569.64,134.33 569.95,128.08 570.26,136.65 570.57,139.55 570.88,133.48 571.19,129.91 571.50,121.22 571.81,112.28 572.12,116.25 572.43,123.37 572.73,123.90 573.04,124.22 573.35,124.43 573.66,114.01 573.97,97.99 574.28,97.00 574.59,116.37 574.90,131.39 575.21,130.86 575.52,126.99 575.83,122.19 576.14,116.33 576.44,118.80 576.75,135.60 577.06,158.71 577.37,169.33 577.68,153.30 577.99,133.55 578.30,136.89 578.61,148.45 578.92,146.19 579.23,135.00 579.54,131.83 579.85,131.56 580.15,122.38 580.46,113.16 580.77,110.80 581.08,107.06 581.39,101.09 581.70,106.89 582.01,121.95 582.32,129.83 582.63,124.68 582.94,115.08 583.25,107.25 583.56,98.21 583.86,90.03 584.17,89.39 584.48,103.60 584.79,128.44 585.10,140.85 585.41,128.79 585.72,112.69 586.03,109.68 586.34,117.22 586.65,128.87 586.96,134.81 587.27,127.01 587.57,115.31 587.88,119.68 588.19,135.86 588.50,140.10 588.81,123.21 589.12,105.30 589.43,103.83 589.74,102.76 590.05,88.52 590.36,76.87 590.67,77.26 590.98,81.37 591.28,85.47 591.59,92.90 591.90,102.41 592.21,104.63 592.52,96.31 592.83,91.55 593.14,102.21 593.45,116.76 593.76,114.23 594.07,106.51 594.38,106.27 594.69,104.05 594.99,101.56 595.30,107.74 595.61,115.28 595.92,109.46 596.23,94.95 596.54,90.72 596.85,99.53 597.16,106.77 597.47,108.11 597.78,116.51 598.09,135.08 598.40,145.88 598.70,144.86 599.01,142.19 599.32,135.11 599.63,124.52 599.94,121.41 600.25,125.59 600.56,131.36 600.87,137.96 601.18,143.96 601.49,149.42 601.80,144.45 602.11,132.29 602.41,130.14 602.72,132.70 603.03,126.82 603.34,117.04 603.65,111.22 603.96,107.39 604.27,109.16 604.58,119.34 604.89,123.66 605.20,110.85 605.51,89.14 605.82,76.33 606.12,80.31 606.43,93.01 606.74,99.67 607.05,98.79 607.36,96.01 607.67,92.89 607.98,97.15 608.29,106.63 608.60,104.70 608.91,84.16 609.22,58.12 609.53,54.57 609.83,81.55 610.14,115.40 610.45,130.94 610.76,124.31 611.07,115.75 611.38,113.93 611.69,115.56 612.00,119.27 612.31,117.25 612.62,111.92 612.93,103.97 613.24,92.33 613.54,95.63 613.85,114.03 614.16,118.87 614.47,108.60 614.78,107.00 615.09,112.70 615.40,109.90 615.71,99.58 616.02,86.74 616.33,72.07 616.64,56.61 616.95,44.15 617.25,41.97 617.56,46.24 617.87,48.47 618.18,54.80 618.49,71.63 618.80,84.38 619.11,79.30 619.42,66.42 619.73,59.87 620.04,62.73 620.35,64.51 620.66,59.24 620.96,57.39 621.27,67.84 621.58,80.30 621.89,85.97 622.20,87.45 622.51,85.18 622.82,77.46 623.13,65.85 623.44,62.45 623.75,74.18 624.06,85.85 624.37,89.88 624.67,96.46 624.98,107.39 625.29,108.39 625.60,97.68 625.91,90.68 626.22,96.04 626.53,104.50 626.84,100.23 627.15,82.12 627.46,69.29 627.77,72.95 628.08,84.12 628.38,96.93 628.69,108.55 629.00,111.06 629.31,105.72 629.62,102.49 629.93,104.67 630.24,98.96 630.55,80.20 630.86,71.02 631.17,79.29 631.48,86.98 631.79,89.94 632.09,95.92 632.40,98.65 632.71,91.78 633.02,85.66 633.33,86.07 633.64,94.46 633.95,103.01 634.26,103.31 634.57,104.78 634.88,114.98 635.19,125.55 635.50,130.15 635.80,121.32 636.11,100.81 636.42,89.05 636.73,90.22 637.04,97.38 637.35,103.60 637.66,95.82 637.97,88.23 638.28,113.03 638.59,159.85 638.90,179.44 639.21,155.01 639.51,123.57 639.82,113.13 640.13,112.78 640.44,113.60 640.75,113.69 641.06,105.40 641.37,94.95 641.68,94.01 641.99,101.55 642.30,107.59 642.61,104.60 642.92,90.71 643.22,72.27 643.53,76.26 643.84,111.14 644.15,137.19 644.46,127.18 644.77,100.10 645.08,83.71 645.39,89.70 645.70,106.14 646.01,110.27 646.32,104.18 646.63,100.10 646.93,95.11 647.24,89.01 647.55,82.02 647.86,76.33 648.17,77.88 648.48,89.24 648.79,101.33 649.10,101.93 649.41,94.03 649.72,85.48 650.03,85.94 650.34,100.41 650.64,115.57 650.95,117.43 651.26,107.75 651.57,98.11 651.88,91.86 652.19,86.84 652.50,92.16 652.81,107.03 653.12,113.60 653.43,107.13 653.74,103.34 654.05,98.56 654.35,79.19 654.66,63.35 654.97,60.98 655.28,54.99 655.59,49.39 655.90,64.98 656.21,91.17 656.52,105.17 656.83,112.17 657.14,123.39 657.45,127.81 657.76,117.34 658.06,106.47 658.37,99.82 658.68,93.61 658.99,92.82 659.30,99.56 659.61,99.52 659.92,85.98 660.23,75.11 660.54,73.91 660.85,76.04 661.16,82.17 661.47,86.07 661.77,85.73 662.08,88.16 662.39,91.65 662.70,97.70 663.01,108.29 663.32,116.60 663.63,109.71 663.94,94.25 664.25,90.08 664.56,96.70 664.87,104.06 665.18,113.89 665.48,126.82 665.79,131.04 666.10,126.66 666.41,123.31 666.72,118.74 667.03,110.34 667.34,99.77 667.65,83.20 667.96,64.28 668.27,57.75 668.58,69.07 668.89,92.67 669.19,117.41 669.50,133.55 669.81,140.83 670.12,137.89 670.43,115.37 670.74,82.51 671.05,65.34 671.36,74.39 671.67,92.39 671.98,100.62 672.29,98.56 672.60,90.14 672.90,76.61 673.21,55.78 673.52,37.59 673.83,36.97 674.14,46.63 674.45,66.38 674.76,74.33 675.07,66.84 675.38,69.23 675.69,89.87 676.00,111.00 676.31,118.15 676.61,108.26 676.92,97.87 677.23,103.95 677.54,117.60 677.85,117.98 678.16,100.80 678.47,84.86 678.78,84.84 679.09,94.67 679.40,96.22 679.71,88.31 680.02,88.88 680.32,98.56 680.63,112.93 680.94,125.09 681.25,120.05 681.56,102.53 681.87,85.68 682.18,82.06 682.49,99.89 682.80,120.30 683.11,120.46 683.42,112.53 683.73,118.35 684.03,132.32 684.34,130.89 684.65,113.29 684.96,104.42" stroke="#bd55b8" stroke-width="0.9" stroke-opacity="0.95"/>
<polyline points="471.02,53.02 471.33,74.86 471.64,96.44 471.95,100.78 472.26,110.19 472.56,119.05 472.87,121.18 473.18,124.44 473.49,134.11 473.80,176.36 474.11,218.95 474.42,216.11 474.73,154.81 475.04,139.61 475.35,170.83 475.66,222.97 475.97,215.14 476.27,204.25 476.58,180.97 476.89,212.75 477.20,256.68 477.51,67.73 477.82,256.68 478.13,220.98 478.44,159.95 478.75,119.92 479.06,126.98 479.37,172.90 479.68,174.43 479.98,158.07 480.29,172.71 480.60,191.07 480.91,175.06 481.22,157.34 481.53,159.47 481.84,190.58 482.15,219.39 482.46,230.43 482.77,229.91 483.08,228.44 483.39,213.75 483.69,186.41 484.00,162.07 484.31,144.27 484.62,150.47 484.93,179.59 485.24,199.17 485.55,179.12 485.86,252.29 486.17,232.30 486.48,252.21 486.79,245.90 487.10,236.12 487.40,227.37 487.71,221.06 488.02,212.08 488.33,218.59 488.64,218.54 488.95,223.96 489.26,211.90 489.57,172.24 489.88,159.79 490.19,165.09 490.50,171.12 490.81,166.01 491.11,177.75 491.42,215.86 491.73,229.58 492.04,189.25 492.35,192.08 492.66,181.06 492.97,252.29 493.28,185.69 493.59,202.34 493.90,225.17 494.21,256.68 494.52,199.47 494.82,205.08 495.13,188.53 495.44,147.36 495.75,157.75 496.06,198.99 496.37,243.87 496.68,256.68 496.99,256.68 497.30,210.36 497.61,192.61 497.92,223.86 498.23,236.68 498.53,123.57 498.84,120.14 499.15,142.22 499.46,160.08 499.77,186.54 500.08,89.70 500.39,172.71 500.70,176.43 501.01,186.35 501.32,187.83 501.63,224.45 501.94,198.31 502.24,139.04 502.55,154.59 502.86,177.07 503.17,197.76 503.48,208.01 503.79,207.14 504.10,184.00 504.41,137.37 504.72,106.31 505.03,112.86 505.34,137.71 505.65,160.40 505.95,143.62 506.26,130.27 506.57,141.84 506.88,176.65 507.19,182.97 507.50,150.75 507.81,157.48 508.12,182.70 508.43,191.57 508.74,175.14 509.05,160.57 509.36,173.01 509.66,201.28 509.97,201.50 510.28,189.11 510.59,198.65 510.90,165.44 511.21,172.41 511.52,215.58 511.83,256.68 512.14,256.68 512.45,248.90 512.76,239.42 513.07,216.41 513.37,190.42 513.68,184.39 513.99,206.16 514.30,208.93 514.61,85.30 514.92,155.78 515.23,160.11 515.54,170.06 515.85,164.50 516.16,152.19 516.47,146.52 516.78,141.50 517.08,135.43 517.39,138.51 517.70,183.75 518.01,180.03 518.32,150.23 518.63,165.80 518.94,200.62 519.25,207.96 519.56,187.51 519.87,191.03 520.18,162.04 520.49,129.85 520.79,112.94 521.10,128.44 521.41,180.72 521.72,208.27 522.03,215.61 522.34,214.03 522.65,182.94 522.96,174.12 523.27,185.35 523.58,201.07 523.89,201.11 524.20,205.76 524.50,214.15 524.81,210.82 525.12,193.63 525.43,220.53 525.74,238.89 526.05,198.89 526.36,182.35 526.67,162.62 526.98,129.46 527.29,172.67 527.60,227.96 527.91,223.80 528.21,197.19 528.52,176.67 528.83,247.68 529.14,151.76 529.45,184.52 529.76,187.38 530.07,183.34 530.38,198.88 530.69,216.33 531.00,174.73 531.31,252.72 531.62,228.51 531.92,233.38 532.23,223.36 532.54,220.79 532.85,211.02 533.16,195.28 533.47,217.87 533.78,227.81 534.09,233.21 534.40,256.68 534.71,248.81 535.02,220.60 535.33,233.87 535.63,220.15 535.94,182.41 536.25,179.57 536.56,190.69 536.87,198.78 537.18,206.39 537.49,193.71 537.80,291.83 538.11,124.71 538.42,154.14 538.73,194.44 539.04,200.71 539.34,207.39 539.65,224.58 539.96,207.96 540.27,189.15 540.58,214.35 540.89,196.70 541.20,142.92 541.51,138.11 541.82,164.46 542.13,154.45 542.44,142.95 542.75,269.86 543.05,143.12 543.36,163.49 543.67,156.98 543.98,162.97 544.29,161.55 544.60,134.39 544.91,144.95 545.22,165.43 545.53,211.13 545.84,248.82 546.15,228.50 546.46,176.18 546.76,126.80 547.07,110.16 547.38,144.89 547.69,186.47 548.00,202.01 548.31,186.57 548.62,190.03 548.93,195.75 549.24,139.72 549.55,95.67 549.86,103.77 550.17,150.95 550.47,168.80 550.78,184.87 551.09,214.96 551.40,219.99 551.71,200.83 552.02,165.84 552.33,135.30 552.64,131.01 552.95,169.65 553.26,189.64 553.57,162.81 553.88,142.58 554.18,133.46 554.49,138.21 554.80,154.57 555.11,157.26 555.42,166.77 555.73,151.54 556.04,136.70 556.35,150.51 556.66,180.91 556.97,214.26 557.28,207.94 557.59,195.68 557.89,206.71 558.20,174.11 558.51,119.11 558.82,144.77 559.13,193.65 559.44,188.55 559.75,176.86 560.06,208.93 560.37,187.55 560.68,183.12 560.99,159.07 561.30,174.51 561.60,188.76 561.91,197.51 562.22,154.53 562.53,148.85 562.84,147.08 563.15,139.25 563.46,261.07 563.77,162.14 564.08,187.75 564.39,195.32 564.70,211.32 565.01,243.39 565.31,255.49 565.62,223.15 565.93,194.04 566.24,156.89 566.55,112.69 566.86,59.15 567.17,84.05 567.48,138.32 567.79,148.67 568.10,133.61 568.41,139.24 568.72,129.33 569.02,120.05 569.33,122.69 569.64,141.94 569.95,156.81 570.26,185.73 570.57,163.30 570.88,123.15 571.19,139.94 571.50,168.59 571.81,140.93 572.12,127.90 572.43,149.64 572.73,168.00 573.04,167.73 573.35,150.92 573.66,116.87 573.97,95.24 574.28,92.07 574.59,125.33 574.90,161.36 575.21,132.53 575.52,106.75 575.83,139.70 576.14,156.40 576.44,170.80 576.75,175.45 577.06,163.36 577.37,125.88 577.68,114.56 577.99,113.25 578.30,136.30 578.61,167.34 578.92,145.69 579.23,131.46 579.54,144.68 579.85,155.97 580.15,149.09 580.46,133.11 580.77,161.27 581.08,180.75 581.39,161.59 581.70,149.99 582.01,129.97 582.32,109.13 582.63,118.18 582.94,105.24 583.25,93.90 583.56,127.10 583.86,112.75 584.17,69.99 584.48,48.78 584.79,70.36 585.10,121.68 585.41,132.94 585.72,138.51 586.03,158.37 586.34,180.45 586.65,182.98 586.96,148.78 587.27,133.15 587.57,142.67 587.88,141.00 588.19,168.80 588.50,210.01 588.81,202.88 589.12,132.34 589.43,108.53 589.74,134.13 590.05,153.21 590.36,151.18 590.67,124.79 590.98,110.95 591.28,109.67 591.59,136.15 591.90,222.65 592.21,185.64 592.52,162.28 592.83,159.15 593.14,134.12 593.45,127.06 593.76,143.09 594.07,126.26 594.38,115.53 594.69,121.09 594.99,134.22 595.30,140.74 595.61,95.74 595.92,66.13 596.23,74.43 596.54,111.27 596.85,145.12 597.16,144.16 597.47,142.63 597.78,134.77 598.09,118.47 598.40,105.10 598.70,109.54 599.01,122.59 599.32,117.49 599.63,110.07 599.94,131.23 600.25,121.98 600.56,101.67 600.87,109.66 601.18,234.71 601.49,78.58 601.80,63.50 602.11,100.15 602.41,154.42 602.72,148.25 603.03,115.64 603.34,93.93 603.65,76.11 603.96,56.87 604.27,87.64 604.58,151.81 604.89,183.69 605.20,164.35 605.51,103.83 605.82,100.06 606.12,136.41 606.43,164.35 606.74,204.07 607.05,124.80 607.36,130.76 607.67,136.41 607.98,115.41 608.29,92.93 608.60,131.42 608.91,161.84 609.22,142.45 609.53,123.15 609.83,127.08 610.14,150.35 610.45,166.46 610.76,148.17 611.07,136.29 611.38,125.50 611.69,74.55 612.00,85.20 612.31,155.20 612.62,136.73 612.93,80.91 613.24,47.50 613.54,77.62 613.85,158.40 614.16,179.71 614.47,146.52 614.78,128.13 615.09,134.71 615.40,114.21 615.71,92.45 616.02,101.14 616.33,122.02 616.64,107.25 616.95,92.11 617.25,81.64 617.56,64.34 617.87,63.11 618.18,62.23 618.49,68.68 618.80,45.27 619.11,41.36 619.42,85.77 619.73,89.91 620.04,94.55 620.35,102.08 620.66,78.05 620.96,78.26 621.27,103.32 621.58,95.01 621.89,81.97 622.20,99.04 622.51,98.23 622.82,78.26 623.13,117.34 623.44,92.51 623.75,58.17 624.06,90.86 624.37,141.04 624.67,189.21 624.98,123.30 625.29,108.88 625.60,85.92 625.91,79.25 626.22,87.80 626.53,83.20 626.84,64.84 627.15,75.84 627.46,95.73 627.77,71.10 628.08,82.87 628.38,113.99 628.69,153.36 629.00,161.87 629.31,137.01 629.62,89.02 629.93,76.85 630.24,96.20 630.55,100.79 630.86,104.94 631.17,157.03 631.48,141.27 631.79,125.03 632.09,102.46 632.40,116.82 632.71,132.13 633.02,103.98 633.33,72.71 633.64,94.02 633.95,97.08 634.26,79.96 634.57,62.08 634.88,101.41 635.19,126.27 635.50,124.52 635.80,129.47 636.11,128.08 636.42,132.04 636.73,125.80 637.04,110.03 637.35,129.56 637.66,146.14 637.97,133.30 638.28,123.94 638.59,118.05 638.90,98.49 639.21,97.18 639.51,137.87 639.82,165.44 640.13,170.04 640.44,137.07 640.75,121.65 641.06,179.95 641.37,163.05 641.68,172.85 641.99,158.79 642.30,103.05 642.61,77.24 642.92,92.84 643.22,80.27 643.53,107.83 643.84,145.21 644.15,125.12 644.46,98.45 644.77,95.02 645.08,87.04 645.39,74.83 645.70,93.39 646.01,97.45 646.32,109.11 646.63,157.21 646.93,195.74 647.24,186.88 647.55,144.89 647.86,131.71 648.17,154.19 648.48,135.31 648.79,113.57 649.10,134.50 649.41,115.31 649.72,89.28 650.03,117.29 650.34,138.14 650.64,146.16 650.95,137.97 651.26,112.32 651.57,115.74 651.88,120.27 652.19,126.24 652.50,137.25 652.81,149.74 653.12,124.06 653.43,97.04 653.74,83.39 654.05,63.95 654.35,61.63 654.66,59.48 654.97,49.09 655.28,48.81 655.59,87.14 655.90,112.82 656.21,111.21 656.52,97.92 656.83,91.48 657.14,93.49 657.45,111.79 657.76,127.31 658.06,122.24 658.37,157.95 658.68,144.70 658.99,113.37 659.30,116.94 659.61,128.61 659.92,112.62 660.23,126.13 660.54,141.54 660.85,107.21 661.16,58.69 661.47,45.28 661.77,64.95 662.08,101.87 662.39,100.54 662.70,67.02 663.01,64.33 663.32,111.31 663.63,159.09 663.94,154.23 664.25,118.74 664.56,157.13 664.87,99.42 665.18,44.63 665.48,41.36 665.79,70.74 666.10,105.58 666.41,97.55 666.72,77.37 667.03,62.97 667.34,86.47 667.65,137.68 667.96,154.57 668.27,121.20 668.58,50.15 668.89,95.99 669.19,129.80 669.50,143.56 669.81,151.75 670.12,132.18 670.43,83.04 670.74,76.50 671.05,84.36 671.36,92.41 671.67,121.53 671.98,131.48 672.29,102.18 672.60,56.53 672.90,52.73 673.21,53.28 673.52,47.58 673.83,75.33 674.14,112.41 674.45,132.11 674.76,105.82 675.07,88.47 675.38,89.23 675.69,102.49 676.00,140.45 676.31,149.06 676.61,161.84 676.92,156.12 677.23,190.29 677.54,105.99 677.85,145.38 678.16,186.20 678.47,121.61 678.78,61.89 679.09,58.08 679.40,56.60 679.71,45.47 680.02,99.46 680.32,164.98 680.63,190.67 680.94,137.23 681.25,102.59 681.56,118.94 681.87,120.08 682.18,121.10 682.49,128.35 682.80,128.64 683.11,135.13 683.42,153.96 683.73,217.13 684.03,175.92 684.34,174.58 684.65,154.52 684.96,125.80" stroke="#74c155" stroke-width="0.6" stroke-opacity="0.95"/>
</g>
<rect x="470.3" y="10.6" width="214.2" height="307.59999999999997" fill="none" stroke="#777" stroke-width="1"/>
<g stroke="#333" stroke-width="0.8">
<line x1="477.40" y1="318.2" x2="477.40" y2="315.59999999999997"/>
<line x1="477.40" y1="10.6" x2="477.40" y2="13.2"/>
<line x1="514.50" y1="318.2" x2="514.50" y2="315.59999999999997"/>
<line x1="514.50" y1="10.6" x2="514.50" y2="13.2"/>
<line x1="551.60" y1="318.2" x2="551.60" y2="315.59999999999997"/>
<line x1="551.60" y1="10.6" x2="551.60" y2="13.2"/>
<line x1="588.70" y1="318.2" x2="588.70" y2="315.59999999999997"/>
<line x1="588.70" y1="10.6" x2="588.70" y2="13.2"/>
<line x1="625.80" y1="318.2" x2="625.80" y2="315.59999999999997"/>
<line x1="625.80" y1="10.6" x2="625.80" y2="13.2"/>
<line x1="662.90" y1="318.2" x2="662.90" y2="315.59999999999997"/>
<line x1="662.90" y1="10.6" x2="662.90" y2="13.2"/>
<line x1="470.3" y1="318.20" x2="472.90000000000003" y2="318.20"/>
<line x1="684.5" y1="318.20" x2="681.9" y2="318.20"/>
<line x1="470.3" y1="274.26" x2="472.90000000000003" y2="274.26"/>
<line x1="684.5" y1="274.26" x2="681.9" y2="274.26"/>
<line x1="470.3" y1="230.31" x2="472.90000000000003" y2="230.31"/>
<line x1="684.5" y1="230.31" x2="681.9" y2="230.31"/>
<line x1="470.3" y1="186.37" x2="472.90000000000003" y2="186.37"/>
<line x1="684.5" y1="186.37" x2="681.9" y2="186.37"/>
<line x1="470.3" y1="142.43" x2="472.90000000000003" y2="142.43"/>
<line x1="684.5" y1="142.43" x2="681.9" y2="142.43"/>
<line x1="470.3" y1="98.49" x2="472.90000000000003" y2="98.49"/>
<line x1="684.5" y1="98.49" x2="681.9" y2="98.49"/>
<line x1="470.3" y1="54.54" x2="472.90000000000003" y2="54.54"/>
<line x1="684.5" y1="54.54" x2="681.9" y2="54.54"/>
<line x1="470.3" y1="10.60" x2="472.90000000000003" y2="10.60"/>
<line x1="684.5" y1="10.60" x2="681.9" y2="10.60"/>
</g>
<g font-family="Liberation Sans, sans-serif" font-size="8.8" fill="#111">
<text x="467.30" y="321.30" text-anchor="end">−4</text>
<text x="467.30" y="277.36" text-anchor="end">−3</text>
<text x="467.30" y="233.41" text-anchor="end">−2</text>
<text x="467.30" y="189.47" text-anchor="end">−1</text>
<text x="467.30" y="145.53" text-anchor="end">0</text>
<text x="467.30" y="101.59" text-anchor="end">1</text>
<text x="467.30" y="57.64" text-anchor="end">2</text>
<text x="467.30" y="13.70" text-anchor="end">3</text>
<text x="477.40" y="329.20" text-anchor="middle">1960</text>
<text x="514.50" y="329.20" text-anchor="middle">1970</text>
<text x="551.60" y="329.20" text-anchor="middle">1980</text>
<text x="588.70" y="329.20" text-anchor="middle">1990</text>
<text x="625.80" y="329.20" text-anchor="middle">2000</text>
<text x="662.90" y="329.20" text-anchor="middle">2010</text>
</g>
<text x="457.8" y="166.50" font-family="Liberation Sans, sans-serif" font-size="10.5" text-anchor="middle" transform="rotate(-90 457.8 166.50)">std</text>
<text transform="translate(446.50 36.90) scale(1 1.15)" font-family="Liberation Sans, sans-serif" font-size="11.8">(c)</text>
<rect x="607.3" y="15" width="73.30000000000007" height="25.1" fill="#fff" stroke="#222" stroke-width="0.8"/>
<line x1="613" y1="22.2" x2="640.5" y2="22.2" stroke="#c45fbf" stroke-width="0.75" stroke-opacity="0.8"/>
<text x="643.5" y="25.3" font-family="Liberation Sans, sans-serif" font-size="8.9" fill="#111">BenCS</text>
<line x1="613" y1="33.6" x2="640.5" y2="33.6" stroke="#79c35a" stroke-width="0.75" stroke-opacity="0.8"/>
<text x="643.5" y="36.7" font-family="Liberation Sans, sans-serif" font-size="8.9" fill="#111">−CanCS</text>
<text x="605.3" y="308.4" font-family="Liberation Sans, sans-serif" font-weight="bold" font-size="18.4" fill="#000" stroke="#000" stroke-width="0.4">R=-0.44</text>
</svg>
<svg width="685" height="680" style="position:absolute;left:0;top:0">
<defs><clipPath id="cp343"><rect x="470.2" y="343.0" width="214.3" height="307.4"/></clipPath></defs>
<g stroke="#6a6a6a" stroke-width="0.75" stroke-dasharray="1 3.1" fill="none">
<line x1="477.30" y1="343.0" x2="477.30" y2="650.4"/>
<line x1="514.40" y1="343.0" x2="514.40" y2="650.4"/>
<line x1="551.50" y1="343.0" x2="551.50" y2="650.4"/>
<line x1="588.60" y1="343.0" x2="588.60" y2="650.4"/>
<line x1="625.70" y1="343.0" x2="625.70" y2="650.4"/>
<line x1="662.80" y1="343.0" x2="662.80" y2="650.4"/>
<line x1="470.2" y1="619.66" x2="684.5" y2="619.66"/>
<line x1="470.2" y1="588.92" x2="684.5" y2="588.92"/>
<line x1="470.2" y1="558.18" x2="684.5" y2="558.18"/>
<line x1="470.2" y1="527.44" x2="684.5" y2="527.44"/>
<line x1="470.2" y1="496.70" x2="684.5" y2="496.70"/>
<line x1="470.2" y1="465.96" x2="684.5" y2="465.96"/>
<line x1="470.2" y1="435.22" x2="684.5" y2="435.22"/>
<line x1="470.2" y1="404.48" x2="684.5" y2="404.48"/>
<line x1="470.2" y1="373.74" x2="684.5" y2="373.74"/>
</g>
<g clip-path="url(#cp343)" fill="none" stroke-linejoin="round">
<polyline points="470.92,373.74 471.23,398.33 471.54,435.22 471.85,442.43 472.16,455.38 472.46,474.74 472.77,452.59 473.08,476.16 473.39,453.86 473.70,465.44 474.01,487.98 474.32,489.90 474.63,463.54 474.94,479.45 475.25,472.76 475.56,463.78 475.87,435.43 476.17,411.74 476.48,398.58 476.79,395.40 477.10,379.89 477.41,401.73 477.72,413.65 478.03,444.17 478.34,489.32 478.65,491.56 478.96,506.20 479.27,522.66 479.58,517.19 479.88,525.04 480.19,555.74 480.50,571.96 480.81,549.61 481.12,558.21 481.43,553.70 481.74,558.81 482.05,569.87 482.36,554.54 482.67,527.06 482.98,528.61 483.29,546.60 483.59,540.63 483.90,537.62 484.21,531.48 484.52,520.54 484.83,504.96 485.14,524.30 485.45,544.40 485.76,548.93 486.07,554.28 486.38,565.19 486.69,566.42 487.00,568.10 487.30,577.87 487.61,555.37 487.92,554.53 488.23,559.45 488.54,538.22 488.85,538.86 489.16,505.33 489.47,504.41 489.78,507.69 490.09,518.60 490.40,516.53 490.71,496.17 491.01,505.91 491.32,488.23 491.63,517.33 491.94,496.67 492.25,475.79 492.56,468.61 492.87,466.48 493.18,447.98 493.49,461.64 493.80,465.93 494.11,449.30 494.42,423.13 494.72,418.32 495.03,433.90 495.34,438.06 495.65,441.68 495.96,470.17 496.27,508.20 496.58,504.49 496.89,512.95 497.20,507.91 497.51,517.88 497.82,516.88 498.13,491.63 498.43,481.59 498.74,475.43 499.05,446.22 499.36,458.87 499.67,460.15 499.98,434.82 500.29,452.76 500.60,464.64 500.91,426.34 501.22,428.69 501.53,435.58 501.84,444.27 502.14,450.60 502.45,478.41 502.76,491.57 503.07,517.80 503.38,518.07 503.69,521.98 504.00,538.55 504.31,536.03 504.62,508.93 504.93,558.50 505.24,559.00 505.55,563.07 505.85,568.61 506.16,581.32 506.47,552.64 506.78,540.63 507.09,539.37 507.40,535.24 507.71,518.76 508.02,495.34 508.33,478.93 508.64,445.70 508.95,464.06 509.26,460.80 509.56,472.70 509.87,460.39 510.18,462.77 510.49,472.83 510.80,486.35 511.11,483.77 511.42,467.74 511.73,453.41 512.04,461.89 512.35,497.94 512.66,509.61 512.97,512.93 513.27,521.96 513.58,528.73 513.89,527.19 514.20,539.48 514.51,562.64 514.82,595.20 515.13,593.25 515.44,615.94 515.75,598.10 516.06,577.97 516.37,587.83 516.68,572.10 516.98,564.01 517.29,525.80 517.60,524.70 517.91,552.54 518.22,529.29 518.53,515.39 518.84,513.74 519.15,512.89 519.46,496.10 519.77,484.58 520.08,479.44 520.39,493.67 520.69,486.80 521.00,498.56 521.31,499.91 521.62,484.58 521.93,481.37 522.24,468.04 522.55,419.25 522.86,421.47 523.17,438.32 523.48,460.33 523.79,455.48 524.10,473.49 524.40,498.90 524.71,477.06 525.02,490.58 525.33,490.81 525.64,466.10 525.95,511.61 526.26,548.29 526.57,575.70 526.88,610.58 527.19,628.33 527.50,615.63 527.81,586.02 528.11,586.79 528.42,596.93 528.73,594.52 529.04,585.15 529.35,561.33 529.66,538.84 529.97,523.40 530.28,515.22 530.59,533.49 530.90,529.99 531.21,537.96 531.52,538.87 531.82,576.78 532.13,554.01 532.44,584.63 532.75,595.22 533.06,578.56 533.37,594.62 533.68,578.11 533.99,598.58 534.30,629.97 534.61,633.73 534.92,638.10 535.23,612.28 535.53,594.16 535.84,594.99 536.15,607.83 536.46,603.63 536.77,585.27 537.08,599.16 537.39,602.09 537.70,561.10 538.01,531.21 538.32,518.36 538.63,500.40 538.94,502.74 539.24,448.08 539.55,480.29 539.86,530.64 540.17,566.07 540.48,595.70 540.79,583.77 541.10,571.38 541.41,588.11 541.72,546.31 542.03,529.07 542.34,548.70 542.65,573.99 542.95,530.13 543.26,526.36 543.57,512.76 543.88,506.46 544.19,473.63 544.50,450.33 544.81,443.52 545.12,462.36 545.43,468.09 545.74,468.37 546.05,501.28 546.36,480.05 546.66,494.58 546.97,495.78 547.28,500.65 547.59,494.93 547.90,489.84 548.21,467.70 548.52,491.05 548.83,507.26 549.14,498.44 549.45,503.43 549.76,483.02 550.07,494.88 550.37,485.46 550.68,468.29 550.99,457.70 551.30,462.19 551.61,448.38 551.92,448.04 552.23,490.99 552.54,484.14 552.85,485.62 553.16,494.95 553.47,505.89 553.78,503.56 554.08,499.91 554.39,501.89 554.70,489.92 555.01,491.75 555.32,513.90 555.63,522.51 555.94,502.64 556.25,513.20 556.56,504.41 556.87,494.51 557.18,480.76 557.49,479.92 557.79,465.10 558.10,482.87 558.41,473.67 558.72,486.06 559.03,474.70 559.34,460.23 559.65,460.89 559.96,476.90 560.27,427.96 560.58,406.79 560.89,393.03 561.20,386.04 561.50,399.22 561.81,393.54 562.12,399.78 562.43,389.76 562.74,402.39 563.05,423.77 563.36,416.57 563.67,438.69 563.98,443.04 564.29,478.78 564.60,480.77 564.91,475.19 565.21,495.23 565.52,501.66 565.83,502.04 566.14,515.35 566.45,503.71 566.76,530.04 567.07,532.48 567.38,530.83 567.69,552.51 568.00,553.68 568.31,523.34 568.62,519.02 568.92,490.99 569.23,496.01 569.54,497.03 569.85,478.53 570.16,480.59 570.47,466.75 570.78,498.46 571.09,493.58 571.40,489.50 571.71,490.76 572.02,484.54 572.33,484.81 572.63,499.94 572.94,516.28 573.25,503.88 573.56,512.43 573.87,502.16 574.18,486.50 574.49,492.01 574.80,506.39 575.11,500.76 575.42,480.69 575.73,482.51 576.04,460.69 576.34,463.25 576.65,459.91 576.96,465.60 577.27,457.74 577.58,434.63 577.89,440.79 578.20,440.29 578.51,443.04 578.82,419.73 579.13,437.70 579.44,430.75 579.75,405.32 580.05,396.98 580.36,420.53 580.67,419.57 580.98,464.32 581.29,451.56 581.60,456.91 581.91,484.84 582.22,517.29 582.53,523.58 582.84,524.94 583.15,533.09 583.46,549.31 583.76,556.58 584.07,546.72 584.38,566.23 584.69,557.07 585.00,550.49 585.31,522.20 585.62,526.10 585.93,503.07 586.24,501.02 586.55,464.94 586.86,480.91 587.17,491.41 587.47,498.94 587.78,499.98 588.09,470.35 588.40,498.47 588.71,517.40 589.02,517.88 589.33,507.38 589.64,528.38 589.95,515.57 590.26,512.46 590.57,526.01 590.88,535.51 591.18,549.34 591.49,550.72 591.80,560.75 592.11,539.44 592.42,526.79 592.73,546.42 593.04,536.16 593.35,548.59 593.66,526.95 593.97,496.87 594.28,475.79 594.59,460.57 594.89,439.10 595.20,433.55 595.51,431.40 595.82,396.91 596.13,423.43 596.44,418.69 596.75,404.60 597.06,370.67 597.37,397.30 597.68,400.43 597.99,414.38 598.30,417.54 598.60,415.95 598.91,428.80 599.22,439.00 599.53,464.08 599.84,480.70 600.15,474.87 600.46,456.42 600.77,456.51 601.08,447.67 601.39,445.83 601.70,444.08 602.01,470.53 602.31,455.31 602.62,455.89 602.93,438.98 603.24,452.53 603.55,460.67 603.86,465.82 604.17,461.29 604.48,481.26 604.79,468.27 605.10,456.71 605.41,434.65 605.72,444.38 606.02,435.18 606.33,413.10 606.64,437.21 606.95,431.11 607.26,448.89 607.57,452.75 607.88,448.59 608.19,442.73 608.50,460.60 608.81,477.62 609.12,452.20 609.43,460.12 609.73,456.83 610.04,455.13 610.35,457.89 610.66,474.41 610.97,481.55 611.28,505.46 611.59,494.04 611.90,499.14 612.21,495.38 612.52,468.18 612.83,472.40 613.14,483.33 613.44,507.84 613.75,490.91 614.06,472.93 614.37,497.06 614.68,485.29 614.99,478.97 615.30,462.24 615.61,448.68 615.92,450.53 616.23,427.56 616.54,423.29 616.85,395.26 617.15,386.04 617.46,398.33 617.77,391.65 618.08,401.07 618.39,406.78 618.70,414.74 619.01,439.00 619.32,459.07 619.63,494.15 619.94,515.45 620.25,529.84 620.56,533.48 620.86,541.51 621.17,517.68 621.48,538.51 621.79,553.42 622.10,552.77 622.41,547.72 622.72,537.63 623.03,538.17 623.34,556.82 623.65,557.10 623.96,538.31 624.27,538.06 624.57,528.18 624.88,533.03 625.19,510.18 625.50,499.50 625.81,495.58 626.12,502.12 626.43,524.88 626.74,527.64 627.05,502.40 627.36,482.69 627.67,523.31 627.98,517.76 628.28,497.93 628.59,496.15 628.90,519.35 629.21,519.06 629.52,527.15 629.83,528.33 630.14,508.64 630.45,497.25 630.76,512.20 631.07,522.30 631.38,529.46 631.69,531.94 631.99,493.84 632.30,467.16 632.61,475.20 632.92,465.27 633.23,482.75 633.54,482.25 633.85,467.97 634.16,468.74 634.47,472.94 634.78,495.80 635.09,502.42 635.40,490.62 635.70,486.34 636.01,477.14 636.32,479.70 636.63,474.38 636.94,468.89 637.25,462.92 637.56,467.67 637.87,479.44 638.18,482.53 638.49,469.50 638.80,479.92 639.11,496.20 639.41,505.48 639.72,493.82 640.03,486.29 640.34,475.43 640.65,491.15 640.96,473.51 641.27,487.78 641.58,491.82 641.89,497.29 642.20,484.32 642.51,470.64 642.82,477.99 643.12,486.82 643.43,503.87 643.74,488.11 644.05,486.75 644.36,485.43 644.67,494.46 644.98,504.04 645.29,504.67 645.60,495.51 645.91,486.84 646.22,498.15 646.53,501.03 646.83,511.53 647.14,517.54 647.45,539.07 647.76,521.03 648.07,514.22 648.38,490.84 648.69,502.86 649.00,493.37 649.31,498.08 649.62,479.65 649.93,471.17 650.24,451.68 650.54,448.82 650.85,448.97 651.16,469.15 651.47,468.48 651.78,484.81 652.09,498.64 652.40,502.58 652.71,505.31 653.02,542.36 653.33,571.59 653.64,572.16 653.95,585.78 654.25,628.29 654.56,645.79 654.87,645.79 655.18,644.25 655.49,622.00 655.80,593.86 656.11,571.12 656.42,537.06 656.73,564.53 657.04,552.89 657.35,528.44 657.66,542.91 657.96,546.06 658.27,520.70 658.58,491.94 658.89,471.49 659.20,500.12 659.51,506.83 659.82,493.97 660.13,492.96 660.44,480.18 660.75,475.95 661.06,451.38 661.37,463.63 661.67,464.88 661.98,465.87 662.29,451.61 662.60,473.73 662.91,468.93 663.22,495.59 663.53,524.63 663.84,511.53 664.15,522.79 664.46,524.68 664.77,543.46 665.08,541.79 665.38,547.58 665.69,544.11 666.00,555.34 666.31,531.81 666.62,554.55 666.93,527.50 667.24,538.96 667.55,528.03 667.86,531.06 668.17,526.47 668.48,508.64 668.79,516.79 669.09,533.18 669.40,530.36 669.71,526.20 670.02,568.37 670.33,543.84 670.64,533.71 670.95,569.98 671.26,567.10 671.57,555.18 671.88,578.85 672.19,578.35 672.50,570.84 672.80,552.16 673.11,533.08 673.42,536.66 673.73,533.78 674.04,517.64 674.35,512.33 674.66,515.49 674.97,498.70 675.28,527.50 675.59,518.65 675.90,521.68 676.21,523.47 676.51,514.12 676.82,511.35 677.13,476.78 677.44,484.98 677.75,491.08 678.06,473.65 678.37,472.42 678.68,508.74 678.99,496.33 679.30,480.38 679.61,489.45 679.92,479.40 680.22,483.09 680.53,471.55 680.84,491.48 681.15,502.82 681.46,486.96 681.77,467.17 682.08,441.21 682.39,449.18 682.70,457.05 683.01,435.96 683.32,436.29 683.63,410.41 683.93,422.26 684.24,450.65 684.55,445.76 684.86,419.85" stroke="#4858b2" stroke-width="0.7" stroke-opacity="0.95"/>
<polyline points="470.92,450.59 471.23,459.81 471.54,480.77 471.85,479.17 472.16,472.77 472.46,477.32 472.77,485.75 473.08,493.35 473.39,487.41 473.70,477.58 474.01,481.34 474.32,494.92 474.63,501.24 474.94,486.36 475.25,487.95 475.56,503.38 475.87,500.68 476.17,507.23 476.48,507.43 476.79,506.71 477.10,508.14 477.41,499.96 477.72,500.00 478.03,504.21 478.34,499.68 478.65,494.17 478.96,509.41 479.27,508.64 479.58,513.82 479.88,511.28 480.19,518.30 480.50,513.15 480.81,510.80 481.12,511.95 481.43,519.03 481.74,519.08 482.05,524.86 482.36,530.88 482.67,523.46 482.98,529.46 483.29,516.86 483.59,513.26 483.90,531.74 484.21,526.70 484.52,534.42 484.83,530.38 485.14,526.48 485.45,538.72 485.76,532.71 486.07,528.86 486.38,517.15 486.69,525.53 487.00,515.99 487.30,523.41 487.61,521.78 487.92,524.16 488.23,508.28 488.54,504.20 488.85,486.18 489.16,487.45 489.47,485.59 489.78,483.37 490.09,491.59 490.40,491.44 490.71,479.74 491.01,484.49 491.32,481.89 491.63,480.75 491.94,474.29 492.25,476.66 492.56,475.78 492.87,471.42 493.18,468.91 493.49,473.63 493.80,462.54 494.11,471.16 494.42,474.69 494.72,476.48 495.03,460.04 495.34,459.05 495.65,462.04 495.96,465.78 496.27,459.24 496.58,467.12 496.89,474.37 497.20,465.74 497.51,474.83 497.82,474.76 498.13,473.31 498.43,476.60 498.74,476.61 499.05,467.26 499.36,476.27 499.67,488.16 499.98,500.68 500.29,497.18 500.60,497.19 500.91,493.66 501.22,497.95 501.53,501.66 501.84,506.70 502.14,509.26 502.45,506.80 502.76,510.34 503.07,509.94 503.38,496.71 503.69,498.67 504.00,515.22 504.31,500.94 504.62,502.80 504.93,513.63 505.24,506.69 505.55,509.30 505.85,515.74 506.16,519.94 506.47,525.32 506.78,521.07 507.09,509.72 507.40,510.19 507.71,503.53 508.02,487.36 508.33,499.03 508.64,493.74 508.95,493.28 509.26,497.13 509.56,497.76 509.87,489.25 510.18,479.39 510.49,479.17 510.80,475.30 511.11,471.04 511.42,472.44 511.73,469.88 512.04,472.17 512.35,474.17 512.66,466.31 512.97,471.30 513.27,478.75 513.58,479.76 513.89,493.20 514.20,497.80 514.51,493.49 514.82,493.93 515.13,488.76 515.44,498.33 515.75,516.27 516.06,503.22 516.37,503.02 516.68,520.10 516.98,513.73 517.29,521.14 517.60,540.55 517.91,543.24 518.22,544.81 518.53,527.18 518.84,533.26 519.15,532.01 519.46,530.51 519.77,529.44 520.08,531.82 520.39,523.97 520.69,512.01 521.00,507.25 521.31,514.92 521.62,520.24 521.93,511.73 522.24,508.68 522.55,503.79 522.86,506.09 523.17,478.19 523.48,466.56 523.79,471.03 524.10,457.33 524.40,443.39 524.71,460.06 525.02,453.98 525.33,456.29 525.64,458.98 525.95,470.66 526.26,482.86 526.57,493.31 526.88,489.86 527.19,489.92 527.50,514.16 527.81,534.30 528.11,514.15 528.42,529.15 528.73,535.16 529.04,534.26 529.35,530.43 529.66,524.10 529.97,525.01 530.28,534.88 530.59,530.63 530.90,529.97 531.21,518.12 531.52,526.18 531.82,541.38 532.13,548.96 532.44,535.72 532.75,543.07 533.06,559.63 533.37,558.95 533.68,554.86 533.99,544.26 534.30,554.77 534.61,549.28 534.92,543.81 535.23,548.16 535.53,545.55 535.84,528.12 536.15,516.59 536.46,514.61 536.77,515.86 537.08,509.22 537.39,513.24 537.70,513.88 538.01,518.47 538.32,513.41 538.63,509.21 538.94,483.39 539.24,487.93 539.55,478.02 539.86,469.86 540.17,474.24 540.48,466.40 540.79,487.55 541.10,483.18 541.41,474.62 541.72,493.19 542.03,494.89 542.34,479.26 542.65,479.26 542.95,485.16 543.26,483.05 543.57,482.72 543.88,472.86 544.19,469.47 544.50,474.35 544.81,480.74 545.12,480.67 545.43,471.07 545.74,473.13 546.05,472.84 546.36,479.11 546.66,491.90 546.97,495.90 547.28,488.87 547.59,489.31 547.90,496.79 548.21,505.35 548.52,497.43 548.83,495.69 549.14,494.42 549.45,493.19 549.76,487.63 550.07,483.90 550.37,476.43 550.68,471.89 550.99,465.88 551.30,465.85 551.61,474.87 551.92,479.90 552.23,479.60 552.54,486.07 552.85,484.32 553.16,479.53 553.47,491.80 553.78,507.03 554.08,495.02 554.39,497.20 554.70,494.13 555.01,508.06 555.32,493.42 555.63,490.28 555.94,494.26 556.25,497.80 556.56,495.98 556.87,496.44 557.18,497.03 557.49,503.08 557.79,488.62 558.10,489.04 558.41,487.94 558.72,486.63 559.03,500.88 559.34,482.10 559.65,473.83 559.96,465.24 560.27,454.10 560.58,451.78 560.89,433.66 561.20,430.82 561.50,427.31 561.81,421.57 562.12,418.88 562.43,417.91 562.74,430.01 563.05,446.80 563.36,440.67 563.67,455.47 563.98,450.46 564.29,459.46 564.60,471.17 564.91,477.91 565.21,475.26 565.52,471.95 565.83,479.42 566.14,476.89 566.45,468.40 566.76,481.67 567.07,498.01 567.38,508.55 567.69,518.78 568.00,520.82 568.31,522.93 568.62,527.52 568.92,516.73 569.23,533.56 569.54,534.28 569.85,510.24 570.16,503.16 570.47,502.85 570.78,503.28 571.09,493.98 571.40,497.66 571.71,503.38 572.02,516.59 572.33,516.13 572.63,520.86 572.94,523.63 573.25,525.48 573.56,521.79 573.87,519.92 574.18,505.95 574.49,511.81 574.80,504.81 575.11,483.68 575.42,482.46 575.73,471.20 576.04,462.93 576.34,454.67 576.65,452.02 576.96,464.08 577.27,461.14 577.58,458.24 577.89,463.14 578.20,456.11 578.51,455.73 578.82,462.83 579.13,455.76 579.44,454.71 579.75,460.15 580.05,466.66 580.36,468.87 580.67,470.43 580.98,472.79 581.29,475.09 581.60,485.40 581.91,489.27 582.22,494.35 582.53,502.37 582.84,518.47 583.15,531.55 583.46,534.09 583.76,536.71 584.07,537.65 584.38,556.80 584.69,570.34 585.00,554.53 585.31,541.20 585.62,523.61 585.93,516.27 586.24,513.82 586.55,512.11 586.86,520.00 587.17,505.94 587.47,506.74 587.78,497.31 588.09,492.15 588.40,486.77 588.71,478.71 589.02,485.54 589.33,488.77 589.64,494.07 589.95,493.62 590.26,478.17 590.57,483.77 590.88,475.60 591.18,473.24 591.49,472.44 591.80,471.32 592.11,483.95 592.42,479.85 592.73,465.42 593.04,472.04 593.35,469.64 593.66,471.35 593.97,463.37 594.28,467.29 594.59,448.23 594.89,449.87 595.20,457.86 595.51,436.49 595.82,428.13 596.13,424.87 596.44,422.35 596.75,432.24 597.06,438.43 597.37,436.41 597.68,435.03 597.99,435.33 598.30,442.08 598.60,452.39 598.91,457.81 599.22,452.71 599.53,448.46 599.84,459.00 600.15,464.72 600.46,455.22 600.77,453.18 601.08,451.95 601.39,465.83 601.70,467.03 602.01,468.58 602.31,463.98 602.62,474.98 602.93,459.56 603.24,457.27 603.55,455.16 603.86,466.63 604.17,465.29 604.48,454.74 604.79,470.15 605.10,465.87 605.41,460.71 605.72,468.18 606.02,461.85 606.33,466.81 606.64,458.58 606.95,459.14 607.26,462.84 607.57,454.01 607.88,458.63 608.19,459.11 608.50,479.06 608.81,488.26 609.12,484.06 609.43,482.26 609.73,489.51 610.04,488.92 610.35,503.36 610.66,503.86 610.97,514.42 611.28,508.80 611.59,511.63 611.90,514.58 612.21,511.30 612.52,496.44 612.83,508.50 613.14,512.82 613.44,503.19 613.75,508.52 614.06,495.64 614.37,499.43 614.68,498.88 614.99,488.21 615.30,467.36 615.61,458.64 615.92,450.20 616.23,442.87 616.54,447.62 616.85,441.25 617.15,415.73 617.46,401.07 617.77,407.87 618.08,419.27 618.39,439.79 618.70,450.58 619.01,471.17 619.32,478.97 619.63,496.78 619.94,508.75 620.25,512.44 620.56,517.63 620.86,514.58 621.17,515.19 621.48,517.30 621.79,512.46 622.10,530.31 622.41,540.94 622.72,530.99 623.03,522.63 623.34,509.71 623.65,511.22 623.96,511.59 624.27,524.44 624.57,520.09 624.88,518.06 625.19,529.60 625.50,535.35 625.81,532.36 626.12,526.21 626.43,545.66 626.74,534.37 627.05,525.69 627.36,522.77 627.67,517.03 627.98,511.48 628.28,518.25 628.59,511.07 628.90,510.96 629.21,515.31 629.52,508.58 629.83,494.20 630.14,506.50 630.45,514.48 630.76,518.45 631.07,493.23 631.38,493.72 631.69,491.78 631.99,495.15 632.30,497.50 632.61,506.10 632.92,494.23 633.23,486.37 633.54,498.93 633.85,499.59 634.16,497.77 634.47,491.39 634.78,485.56 635.09,475.56 635.40,467.80 635.70,465.33 636.01,461.83 636.32,478.24 636.63,483.57 636.94,474.42 637.25,475.64 637.56,478.57 637.87,495.27 638.18,504.61 638.49,491.31 638.80,486.41 639.11,488.38 639.41,490.63 639.72,501.87 640.03,493.34 640.34,483.54 640.65,473.01 640.96,477.85 641.27,482.42 641.58,491.53 641.89,479.68 642.20,468.80 642.51,479.19 642.82,478.54 643.12,479.43 643.43,484.66 643.74,501.78 644.05,496.12 644.36,485.90 644.67,495.89 644.98,497.84 645.29,517.45 645.60,495.93 645.91,489.21 646.22,488.94 646.53,491.53 646.83,496.19 647.14,495.28 647.45,496.85 647.76,497.74 648.07,496.28 648.38,492.83 648.69,479.74 649.00,493.50 649.31,488.61 649.62,491.71 649.93,496.86 650.24,508.50 650.54,493.02 650.85,495.00 651.16,493.98 651.47,483.86 651.78,488.50 652.09,482.09 652.40,478.21 652.71,468.65 653.02,460.61 653.33,475.68 653.64,478.87 653.95,492.36 654.25,502.94 654.56,515.86 654.87,520.42 655.18,541.92 655.49,543.07 655.80,530.26 656.11,531.91 656.42,514.41 656.73,522.87 657.04,519.50 657.35,521.18 657.66,521.76 657.96,524.34 658.27,520.21 658.58,512.69 658.89,512.29 659.20,498.46 659.51,484.62 659.82,497.68 660.13,486.96 660.44,484.16 660.75,480.95 661.06,461.54 661.37,458.04 661.67,461.23 661.98,463.13 662.29,480.40 662.60,467.95 662.91,476.02 663.22,484.77 663.53,495.51 663.84,500.51 664.15,500.53 664.46,513.19 664.77,518.77 665.08,527.71 665.38,527.58 665.69,524.77 666.00,538.98 666.31,521.41 666.62,530.88 666.93,540.51 667.24,524.50 667.55,511.01 667.86,523.43 668.17,529.91 668.48,506.01 668.79,513.48 669.09,533.13 669.40,534.49 669.71,515.71 670.02,514.05 670.33,511.87 670.64,506.37 670.95,506.60 671.26,513.68 671.57,526.71 671.88,518.97 672.19,525.33 672.50,520.82 672.80,504.21 673.11,502.72 673.42,504.86 673.73,505.59 674.04,500.70 674.35,496.05 674.66,509.36 674.97,505.85 675.28,492.05 675.59,490.45 675.90,500.29 676.21,505.16 676.51,517.86 676.82,515.72 677.13,496.31 677.44,496.63 677.75,501.28 678.06,499.60 678.37,493.72 678.68,488.72 678.99,486.12 679.30,486.19 679.61,474.42 679.92,459.27 680.22,464.29 680.53,465.67 680.84,452.29 681.15,462.41 681.46,460.97 681.77,457.91 682.08,451.02 682.39,449.12 682.70,451.48 683.01,443.03 683.32,447.99 683.63,454.04 683.93,458.75 684.24,440.06 684.55,446.17 684.86,432.69" stroke="#e8403a" stroke-width="0.85" stroke-opacity="0.95"/>
</g>
<rect x="470.2" y="343.0" width="214.3" height="307.4" fill="none" stroke="#777" stroke-width="1"/>
<g stroke="#333" stroke-width="0.8">
<line x1="477.30" y1="650.4" x2="477.30" y2="647.8"/>
<line x1="477.30" y1="343.0" x2="477.30" y2="345.6"/>
<line x1="514.40" y1="650.4" x2="514.40" y2="647.8"/>
<line x1="514.40" y1="343.0" x2="514.40" y2="345.6"/>
<line x1="551.50" y1="650.4" x2="551.50" y2="647.8"/>
<line x1="551.50" y1="343.0" x2="551.50" y2="345.6"/>
<line x1="588.60" y1="650.4" x2="588.60" y2="647.8"/>
<line x1="588.60" y1="343.0" x2="588.60" y2="345.6"/>
<line x1="625.70" y1="650.4" x2="625.70" y2="647.8"/>
<line x1="625.70" y1="343.0" x2="625.70" y2="345.6"/>
<line x1="662.80" y1="650.4" x2="662.80" y2="647.8"/>
<line x1="662.80" y1="343.0" x2="662.80" y2="345.6"/>
<line x1="470.2" y1="650.40" x2="472.8" y2="650.40"/>
<line x1="684.5" y1="650.40" x2="681.9" y2="650.40"/>
<line x1="470.2" y1="619.66" x2="472.8" y2="619.66"/>
<line x1="684.5" y1="619.66" x2="681.9" y2="619.66"/>
<line x1="470.2" y1="588.92" x2="472.8" y2="588.92"/>
<line x1="684.5" y1="588.92" x2="681.9" y2="588.92"/>
<line x1="470.2" y1="558.18" x2="472.8" y2="558.18"/>
<line x1="684.5" y1="558.18" x2="681.9" y2="558.18"/>
<line x1="470.2" y1="527.44" x2="472.8" y2="527.44"/>
<line x1="684.5" y1="527.44" x2="681.9" y2="527.44"/>
<line x1="470.2" y1="496.70" x2="472.8" y2="496.70"/>
<line x1="684.5" y1="496.70" x2="681.9" y2="496.70"/>
<line x1="470.2" y1="465.96" x2="472.8" y2="465.96"/>
<line x1="684.5" y1="465.96" x2="681.9" y2="465.96"/>
<line x1="470.2" y1="435.22" x2="472.8" y2="435.22"/>
<line x1="684.5" y1="435.22" x2="681.9" y2="435.22"/>
<line x1="470.2" y1="404.48" x2="472.8" y2="404.48"/>
<line x1="684.5" y1="404.48" x2="681.9" y2="404.48"/>
<line x1="470.2" y1="373.74" x2="472.8" y2="373.74"/>
<line x1="684.5" y1="373.74" x2="681.9" y2="373.74"/>
<line x1="470.2" y1="343.00" x2="472.8" y2="343.00"/>
<line x1="684.5" y1="343.00" x2="681.9" y2="343.00"/>
</g>
<g font-family="Liberation Sans, sans-serif" font-size="8.8" fill="#111">
<text x="467.20" y="653.50" text-anchor="end">−5</text>
<text x="467.20" y="622.76" text-anchor="end">−4</text>
<text x="467.20" y="592.02" text-anchor="end">−3</text>
<text x="467.20" y="561.28" text-anchor="end">−2</text>
<text x="467.20" y="530.54" text-anchor="end">−1</text>
<text x="467.20" y="499.80" text-anchor="end">0</text>
<text x="467.20" y="469.06" text-anchor="end">1</text>
<text x="467.20" y="438.32" text-anchor="end">2</text>
<text x="467.20" y="407.58" text-anchor="end">3</text>
<text x="467.20" y="376.84" text-anchor="end">4</text>
<text x="467.20" y="346.10" text-anchor="end">5</text>
<text x="477.30" y="661.40" text-anchor="middle">1960</text>
<text x="514.40" y="661.40" text-anchor="middle">1970</text>
<text x="551.50" y="661.40" text-anchor="middle">1980</text>
<text x="588.60" y="661.40" text-anchor="middle">1990</text>
<text x="625.70" y="661.40" text-anchor="middle">2000</text>
<text x="662.80" y="661.40" text-anchor="middle">2010</text>
</g>
<text x="457.8" y="505.70" font-family="Liberation Sans, sans-serif" font-size="10.5" text-anchor="middle" transform="rotate(-90 457.8 505.70)">std</text>
<text transform="translate(446.40 359.50) scale(1 1.15)" font-family="Liberation Sans, sans-serif" font-size="11.8">(d)</text>
<rect x="613.5" y="347.4" width="67.10000000000002" height="24.80000000000001" fill="#fff" stroke="#222" stroke-width="0.8"/>
<line x1="618.9" y1="354.3" x2="646" y2="354.3" stroke="#4a5db5" stroke-width="0.75" stroke-opacity="0.8"/>
<text x="649" y="357.40000000000003" font-family="Liberation Sans, sans-serif" font-size="8.9" fill="#111">PC1−P</text>
<line x1="618.9" y1="365.4" x2="646" y2="365.4" stroke="#e8403a" stroke-width="0.75" stroke-opacity="0.8"/>
<text x="649" y="368.5" font-family="Liberation Sans, sans-serif" font-size="8.9" fill="#111">MEI</text>
<text x="572" y="640" font-family="Liberation Sans, sans-serif" font-weight="bold" font-size="18.4" fill="#000" stroke="#000" stroke-width="0.4">R=0.66</text>
<text x="571.1" y="673.7" font-family="Liberation Sans, sans-serif" font-size="10.5" text-anchor="middle" fill="#111">Years</text>
</svg>
</body></html>
